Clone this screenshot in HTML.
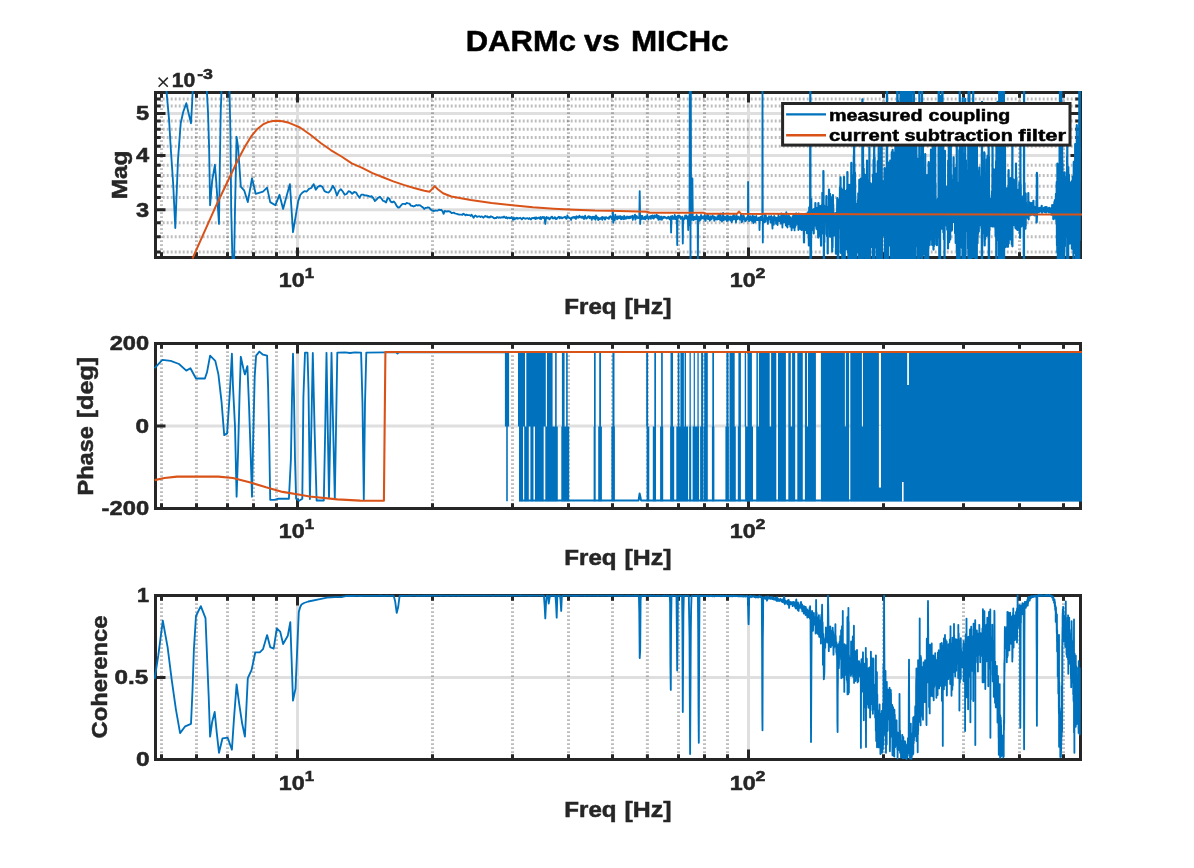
<!DOCTYPE html>
<html><head><meta charset="utf-8"><title>DARMc vs MICHc</title>
<style>html,body{margin:0;padding:0;background:#fff;}svg{display:block;will-change:transform;}text{font-family:"Liberation Sans",sans-serif;font-weight:bold;}</style>
</head><body>
<svg width="1194" height="868" viewBox="0 0 1194 868">
<rect x="0" y="0" width="1194" height="868" fill="#ffffff"/>
<defs>
<clipPath id="cp0"><rect x="153.9" y="90.9" width="928.2" height="168.2"/></clipPath>
<clipPath id="cp1"><rect x="153.9" y="341.9" width="928.2" height="168.2"/></clipPath>
<clipPath id="cp2"><rect x="153.9" y="593.9" width="928.2" height="167.2"/></clipPath>
</defs>
<g fill="none">
<path d="M297.5 94.0V256.0 M748.5 94.0V256.0 M157.0 209.8H1079.0 M157.0 155.5H1079.0 M157.0 113.4H1079.0" stroke="#DFDFDF" stroke-width="3"/>
<path d="M161.5 94.0V256.0 M196.5 94.0V256.0 M227.5 94.0V256.0 M253.5 94.0V256.0 M276.5 94.0V256.0 M432.5 94.0V256.0 M512.5 94.0V256.0 M568.5 94.0V256.0 M612.5 94.0V256.0 M647.4 94.0V256.0 M678.5 94.0V256.0 M704.5 94.0V256.0 M727.5 94.0V256.0 M883.5 94.0V256.0 M963.5 94.0V256.0 M1019.5 94.0V256.0 M1063.5 94.0V256.0" stroke="#262626" stroke-opacity="0.3" stroke-width="3" stroke-dasharray="1.8 2.2" stroke-dashoffset="1.80"/>
<path d="M157.0 251.9H1079.0 M157.0 236.8H1079.0 M157.0 222.8H1079.0 M157.0 197.6H1079.0 M157.0 186.2H1079.0 M157.0 175.4H1079.0 M157.0 165.2H1079.0 M157.0 146.3H1079.0 M157.0 137.5H1079.0 M157.0 129.2H1079.0 M157.0 121.1H1079.0 M157.0 106.0H1079.0 M157.0 98.9H1079.0" stroke="#262626" stroke-opacity="0.3" stroke-width="3" stroke-dasharray="1.9 2.1" stroke-dashoffset="2.25"/>
</g>
<g fill="none" stroke="#262626" stroke-width="3">
<rect x="155.5" y="92.5" width="925.0" height="165.0"/>
<path d="M161.5 257.5v-5.2M161.5 92.5v5.2 M196.5 257.5v-5.2M196.5 92.5v5.2 M227.5 257.5v-5.2M227.5 92.5v5.2 M253.5 257.5v-5.2M253.5 92.5v5.2 M276.5 257.5v-5.2M276.5 92.5v5.2 M432.5 257.5v-5.2M432.5 92.5v5.2 M512.5 257.5v-5.2M512.5 92.5v5.2 M568.5 257.5v-5.2M568.5 92.5v5.2 M612.5 257.5v-5.2M612.5 92.5v5.2 M647.4 257.5v-5.2M647.4 92.5v5.2 M678.5 257.5v-5.2M678.5 92.5v5.2 M704.5 257.5v-5.2M704.5 92.5v5.2 M727.5 257.5v-5.2M727.5 92.5v5.2 M883.5 257.5v-5.2M883.5 92.5v5.2 M963.5 257.5v-5.2M963.5 92.5v5.2 M1019.5 257.5v-5.2M1019.5 92.5v5.2 M1063.5 257.5v-5.2M1063.5 92.5v5.2 M297.5 257.5v-10M297.5 92.5v10 M748.5 257.5v-10M748.5 92.5v10 M155.5 251.9h5.2M1080.5 251.9h-5.2 M155.5 236.8h5.2M1080.5 236.8h-5.2 M155.5 222.8h5.2M1080.5 222.8h-5.2 M155.5 197.6h5.2M1080.5 197.6h-5.2 M155.5 186.2h5.2M1080.5 186.2h-5.2 M155.5 175.4h5.2M1080.5 175.4h-5.2 M155.5 165.2h5.2M1080.5 165.2h-5.2 M155.5 146.3h5.2M1080.5 146.3h-5.2 M155.5 137.5h5.2M1080.5 137.5h-5.2 M155.5 129.2h5.2M1080.5 129.2h-5.2 M155.5 121.1h5.2M1080.5 121.1h-5.2 M155.5 106.0h5.2M1080.5 106.0h-5.2 M155.5 98.9h5.2M1080.5 98.9h-5.2 M155.5 209.8h10M1080.5 209.8h-10 M155.5 155.5h10M1080.5 155.5h-10 M155.5 113.4h10M1080.5 113.4h-10"/>
</g>
<g clip-path="url(#cp0)" fill="none" stroke-linejoin="round" stroke-linecap="butt">
<path d="M166.2 88L169.1 120.2L170.7 147.2L173.2 184.5L175.3 228L176.5 196.9L178 159.6L180.7 123.3L183.2 112L186.3 103.2L188.3 112L191 123.3L192.1 103.7L192.9 86L206.6 86L208 112L209.1 147.2L210.1 205.2L212.2 180.3L214.9 164.8L216.3 182.4L219 223.9L219.8 167.9L220.7 111.9L221.7 86L229.4 86L230.4 132.7L231.2 209.4L232.5 262L234.1 262L235 209.4L236.6 136.8L238.1 147.2L239.5 167.9L240.8 186.6L244.3 190.7L247.8 202.1L252 178.3L255.7 193.8L263 191.7L267.1 187.6L270.2 202.1L275.4 205.2L279.5 194.8L283.1 208.9L289.9 184.1L293 232.2L298.2 201.1L300.3 195L302 193L304.3 191.2L306.7 191.5L309 188.8L311.3 188L313.6 184.1L315.8 189.7L318 186.6L320.2 185.7L322.4 186.8L324.5 191.2L326.6 192.1L328.7 192.5L330.8 190L332.8 185.8L334.9 189.2L336.9 195.5L338.9 191.1L340.8 189.2L342.8 191.5L344.7 194.7L346.6 194L348.5 191.2L350.4 191.8L352.2 193.8L354.1 192L355.9 192.3L357.7 195.2L359.5 197.7L361.3 194.6L363 194.6L364.8 195.3L366.5 195.5L368.2 195.9L369.9 196.8L371.6 196.1L373.3 198.1L374.9 201L376.5 199.6L378.2 197.7L379.8 196.7L381.4 198.5L383 200.8L384.5 201.2L386.1 202.4L387.7 197.9L389.2 198.5L390.7 201.7L392.2 202.4L393.7 201.5L395.2 203.1L396.7 206L398.2 207.5L399.6 207.3L401.1 205.3L402.5 203.9L403.9 203.9L405.3 204.2L406.7 202.9L408.1 203.3L409.5 203.6L410.9 205.6L412.3 205.9L413.6 206.5L415 205.9L416.3 205L417.6 205.5L418.9 205.1L420.3 205.4L421.6 206.7L422.8 207.2L424.1 208.9L425.4 207.9L426.7 207.8L427.9 207.3L429.2 207.6L430.4 209.3L431.7 210.3L432.9 210.8L434.1 211L435.3 210.4L436.5 210.6L437.7 210.6L438.9 209.6L440.1 210L441.3 209.8L442.5 211.2L443.6 213.9L444.8 210.9L445.9 211.3L447.1 211.5L448.2 211.2L449.3 211.4L450.4 211.9L451.6 213.1L452.7 212.8L453.8 212.6L454.9 213.4L456 213.7L457 213.9L458.1 214.3L459.2 214.5L460.3 214.6L461.3 214.6L462.4 214.9L463.4 213.7L464.5 214.3L465.5 215.4L466.6 214.6L467.6 215.1L468.6 215.2L469.6 215.1L470.6 215.9L471.6 214.7L472.6 216.2L473.6 217.8L474.6 216.1L475.6 215.5L476.6 216.7L477.6 216.7L478.5 216.4L479.5 216.3L480.5 217.1L481.4 216.5L482.4 216.6L483.3 217.7L484.3 216.9L485.2 215.9L486.2 216.7L487.1 216.2L488 217.5L488.9 216.9L489.9 217.5L490.8 216.2L491.7 216.8L492.6 217L493.5 217.9L494.4 218.3L495.3 218L496.2 218.1L497 217L497.9 217.4L498.8 217.8L499.7 217.3L500.5 217.8L501.4 217.4L502.3 217.1L503.1 217.6L504 216.5L504.8 217.2L505.7 218L506.5 217.1L507.4 218.4L508.2 217.7L509 217.6L509.8 218.2L510.7 218.1L511.5 217.1L512.3 218.3L513.1 219.7L513.9 217.6L514.7 219.4L515.5 218.2L516.4 217.7L517.1 218.8L517.9 217.9L518.7 218.5L519.5 218.2L520.3 217.8L521.1 218.6L521.9 219.4L522.6 218.3L523.4 217.7L524.2 218.3L525 218.5L525.7 218.8L526.5 218.3L527.2 218.1L528 218.5L528.7 219L529.5 218.1L530.2 218.8L531 219.5L531.7 218.1L532.5 218L533.2 218.3L533.9 217.9L534.7 217.6L535.4 219.1L536.1 217.3L536.8 218.6L537.5 218.4L538.3 217.6L539 217.6L539.7 218.7L540.4 217L541.1 219.2L541.8 217.6L542.5 216.9L543.2 218L543.9 216.9L544.6 218.5L545.3 224L546 217.7L546.7 216.9L547.3 218.4L548 218.2L548.7 217.6L549.4 219.3L550.1 218.8L550.7 218L551.4 216.8L552.1 216.6L552.7 218.4L553.4 218.2L554 218.6L554.7 217.2L555.4 217.3L556 219.2L556.7 218.9L557.3 218L558 217.7L558.6 216.8L559.3 217L559.9 218.5L560.5 217.1L561.2 217.1L561.8 218.2L562.4 218.2L563.1 217.5L563.7 217.5L564.3 217.4L565 216.7L565.6 217.8L566.2 218.7L566.8 218.7L567.4 215.5L568 217.2L568.7 217.4L569.3 218.2L569.9 218.1L570.5 218.2L571.1 219.9L571.7 217.7L572.3 217.3L572.9 217.7L573.5 217L574.1 217.9L574.7 216.9L575.3 218.2L575.9 219L576.5 216.3L577 217.6L577.6 216.8L578.2 217.7L578.8 216.8L579.4 215.6L580 217.5L580.5 217.3L581.1 216.8L581.7 217.7L582.3 216.5L582.8 217.8L583.4 216.8L584 219L584.5 217.3L585.1 215.7L585.7 217.5L586.2 218.6L586.8 218.3L587.3 217.7L587.9 216.7L588.4 216.3L589 216.2L589.5 218.2L590.1 217.8L590.6 216.8L591.2 217.1L591.7 219.9L592.3 217.8L592.8 216.6L593.4 218L593.9 218.5L594.4 216.6L595 218.9L595.5 219.7L596 215.5L596.6 217.1L597.1 218.2L597.6 217.3L598.2 220.1L598.7 217.9L599.2 219.4L599.7 219.1L600.2 218.3L600.8 218.7L601.3 217.7L601.8 217.2L602.3 219.9L602.8 217L603.3 218.3L603.9 218.2L604.4 217.4L604.9 219.6L605.4 218.9L605.9 217.1L606.4 217.4L606.9 217.7L607.4 218.1L607.9 218.4L608.4 217.8L608.9 218.9L609.4 216.8L609.9 216.7L610.4 216.2L610.9 217.4L611.4 217.8L611.9 219.1L612.4 218.1L612.9 211L613.3 222.8L613.8 217.1L614.3 217.7L614.8 220.2L615.3 214.7L615.8 216.9L616.2 216.7L616.7 218.3L617.2 219.2L617.7 216.5L618.2 218.4L618.6 217L619.1 216.2L619.6 218L620 217.1L620.5 216.1L621 219.4L621.5 217.1L621.9 219.1L622.4 216.8L622.9 218L623.3 218.1L623.8 219.2L624.2 215.8L624.7 218.7L625.2 218.7L625.6 217.2L626.1 218.5L626.5 218.6L627 216.5L627.4 216.7L627.9 217.6L628.3 218.3L628.8 216.7L629.2 216.7L629.7 218.2L630.1 216.6L630.6 217.9L631 216.5L631.5 216.9L631.9 217.1L632.4 215.8L632.8 219.8L633.2 216.9L633.7 217.7L634.1 216.4L634.6 215.3L635 214.6L635.4 219.6L635.9 218.4L636.3 216.7L636.7 216L637.2 217.5L637.6 217.1L638 218.2L638.5 217.4L638.9 217.5L639.3 218.1L639.7 191.1L640.2 223.9L640.6 215.7L641 215.8L641.4 219L641.9 216L642.3 215.9L642.7 218.9L643.1 217.8L643.5 217.6L644 219L644.4 217.4L644.8 216.9L645.2 219.4L645.6 216.4L646 217.7L646.4 218.2L646.8 217.1L647.3 214.9L647.7 217.1L648.1 218.5L648.5 219.2L648.9 218.1L649.3 217.4L649.7 216.8L650.1 216.3L650.5 217.5L650.9 218.8L651.3 215.9L651.7 217L652.1 216.5L652.5 215.4L652.9 218.1L653.3 218.3L653.7 218.6L654.1 217.5L654.5 215.4L654.9 216.8L655.3 217.1L655.7 216.3L656.1 217.4L656.5 214.6L656.9 215.1L657.2 218L657.6 216.7L658 216.2L658.4 219.8L658.8 216L659.2 216.8L659.6 219.3L660 219.6L660.3 217.4L660.7 217.1L661.1 216.5L661.5 216.9L661.9 219.9L662.2 217.8L662.6 217.2L663 218.4L663.4 217.7L663.8 216.6L664.1 216.6L664.5 217.7L664.9 216.9L665.3 217.5L665.6 217.4L666 217.9L666.4 218.5L666.7 218.1L667.1 217.9L667.5 217.4L667.9 218.3L668.2 216.7L668.6 218L669 217.1L669.3 218.3L669.7 219.3L670.1 219.2L670.4 217.6L670.8 216.5L671.1 232.6L671.5 217.6L671.9 217.9L672.2 216L672.6 218.9L673 218.4L673.3 218.8L673.7 217.3L674 217.6L674.4 218.7L674.7 215L675.1 218.6L675.5 219.3L675.8 216.6L676.2 216.7L676.5 219.2L676.9 218.8L677.2 245L677.6 216.9L677.9 215.8L678.3 217.9L678.6 217.4L679 215.5L679.3 216L679.7 217.4L680 216.1L680.4 217.9L680.7 218.9L681 217.2L681.4 217.6L681.7 217.1L682.1 217.2L682.4 216.6L682.8 243.5L683.1 220L683.4 219L683.8 218.4L684.1 219.5L684.5 217.7L684.8 218.5L685.1 215.5L685.5 217.7L685.8 218.5L686.2 215.5L686.5 217.9L686.8 218.5L687.2 219.1L687.5 218.5L687.8 216.4L688.2 230L688.5 220.1L688.8 218L689.2 215.7L689.5 225L689.8 80L690.1 80L690.5 270L690.8 80L691.1 215L691.5 219.8L691.8 217.3L692.1 218.9L692.4 178.3L692.8 218.8L693.1 220L693.4 218.5L693.7 220.2L694.1 216.9L694.4 218.2L694.7 216.9L695 218.4L695.3 219.3L695.7 218L696 219.2L696.3 216.3L696.6 214.9L696.9 216.7L697.3 218L697.6 216.3L697.9 262L698.2 216.6L698.5 217.9L698.8 218.4L699.2 217L699.5 220.9L699.8 217.1L700.1 218.8L700.4 217.2L700.7 219.8L701 215L701.3 216.5L701.6 218.3L702 218.4L702.3 218.1L702.6 216.9L702.9 218.3L703.2 216.3L703.5 216.8L703.8 217.3L704.1 218.2L704.4 219.5L704.7 214.9L705 216.7L705.3 219.3L705.6 220.9L705.9 217.8L706.3 216.3L706.6 218.1L706.9 218.3L707.2 217.3L707.5 214.6L707.8 215.7L708.1 219.2L708.4 215.5L708.7 218.3L709 217.6L709.3 217.7L709.6 219.3L709.9 220.7L710.2 218.7L710.5 216.3L710.7 216.9L711 219.4L711.3 219.2L711.6 219.3L711.9 217.4L712.2 216.5L712.5 215.5L712.8 217.3L713.1 217.4L713.4 216.4L713.7 218.7L714 218.6L714.3 220.8L714.6 216.6L714.9 217.2L715.1 217.3L715.4 217.4L715.7 217.9L716 219.5L716.3 218.7L716.6 219.4L716.9 219.4L717.2 219.6L717.4 216.2L717.7 218.3L718 216.8L718.3 216.2L718.6 219.1L718.9 214.5L719.2 217.5L719.4 215.7L719.7 218.3L720 219.4L720.3 220.3L720.6 213.6L720.9 218.6L721.1 217.8L721.4 217.2L721.7 218.6L722 221.6L722.3 219.2L722.5 219.1L722.8 220.2L723.1 213L723.4 219.1L723.6 219L723.9 220L724.2 216.5L724.5 219.6L724.8 219.3L725 217.9L725.3 219.4L725.6 217.9L725.9 218L726.1 216.4L726.4 218.6L726.7 221L726.9 219.4L727.2 215.7L727.5 217.1L727.8 220.5L728 218.4L728.3 218.7L728.6 216.2L728.8 219.7L729.1 217L729.4 218.2L729.7 217.4L729.9 218L730.2 218.5L730.5 220.5L730.7 216.4L731 218.6L731.3 219.6L731.5 216.8L731.8 222.1L732.1 219.5L732.3 219L732.6 220.2L732.9 217L733.1 215.5L733.4 215.8L733.7 215.1L733.9 214.9L734.2 219L734.4 216.2L734.7 218.4L735 218.7L735.2 219.6L735.5 218.4L735.8 218.5L736 222.4L736.3 214.9L736.5 218.1L736.8 219.1L737 217.3L737.3 219.2L737.6 218.4L737.8 216.4L738.1 218L738.3 218.2L738.6 218L738.9 217.1L739.1 218.4L739.4 219.3L739.6 217.5L739.9 219.9L740.1 219.1L740.4 218.4L740.6 218L740.9 214.1L741.2 214.5L741.4 216.3L741.7 222.4L741.9 219.8L742.2 216.3L742.4 221.4L742.7 217.9L742.9 218.3L743.2 218L743.4 215.3L743.7 217.7L743.9 215.8L744.2 218.8L744.4 219.9L744.7 219.3L744.9 218.3L745.2 221.4L745.4 219L745.7 218.3L745.9 218.8L746.2 220.5L746.4 220.5L746.7 218L746.9 219.4L747.1 217L747.4 217.2L747.6 217L747.9 219.2L748.1 182L748.4 219.2L748.6 217L748.9 219L749.1 221.1L749.4 218.4L749.6 216.6L749.8 218.2L750.1 218.2L750.3 218.9L750.6 216.1L750.8 218.4L751 220.3L751.3 217.9L751.5 218.7L751.8 217.8L752 217.4L752.2 221.4L752.5 220L752.7 215.4L753 221.5L753.2 221.9L753.4 223.2L753.7 218.3L753.9 218.1L754.2 220.7L754.4 216.4L754.6 217.2L754.9 218.4L755.1 222L755.3 217.9L755.6 220.2L755.8 218.4L756 218.5L756.3 215.9L756.5 217.4L756.8 220.1L757 219.9L757.2 218.1L757.5 220L757.7 220.1L757.9 219.4L758.2 218.5L758.4 218L758.6 217.6L758.8 220.3L759.1 219.6L759.3 217.9L759.5 230L759.8 217.6L760 218.8L760.2 220.1L760.5 216.7L760.7 219.5L760.9 220.1L761.2 218.9L761.4 217.3L761.6 220.1L761.8 219.9L762.1 217.4L762.3 217.5L762.5 80L762.8 242.5L763 219.2L763.2 222.4L763.4 222.4L763.7 218.6L763.9 218.5L764.1 218.3L764.3 219.5L764.6 222.2L764.8 218.3L765 214.2L765.2 220.7L765.5 220.4L765.7 221.7L765.9 215.3L766.1 218.5L766.4 217.2L766.6 217.3L766.8 218.1L767 217.7L767.2 219.3L767.5 219.7L767.7 218.2L767.9 223.9L768.1 219.6L768.3 217.8L768.6 218.5L768.8 218.4L769 216.1L769.2 217.7L769.5 216.9L769.7 219.4L769.9 218.1L770.1 216.9L770.3 217L770.5 222.6L770.8 221L771 218.4L771.2 216L771.4 217.7L771.6 218.1L771.9 221.8L772.1 221.8L772.3 226.3L772.5 228.6L772.7 217.2L772.9 219.6L773.1 220.5L773.4 221.5L773.6 221.5L773.8 224.7L774 220.6L774.2 216L774.4 219.7L774.7 218.8L774.9 218.8L775.1 220.2L775.3 217.4L775.5 217.7L775.7 219.7L775.9 217.6L776.1 223.8L776.4 218.6L776.6 222.5L776.8 219.3L777 218.9L777.2 217.7L777.4 222.1L777.6 225L777.8 220.7L778 217.4L778.3 219.9L778.5 214.3L778.7 217.4L778.9 220L779.1 218.5L779.3 219.1L779.5 221.1L779.7 218.9L779.9 217.3L780.1 220.5L780.3 216.8L780.5 216.7L780.8 217.1L781 223.7L781.2 216.4L781.4 213.4L781.6 216.6L781.8 218.3L782 218.6L782.2 218.9L782.4 227.5L782.6 215.1L782.8 221.1L783 219.6L783.2 218.9L783.4 215L783.6 222.3L783.8 217.5L784 218.3L784.2 215.1L784.5 222.2L784.7 222.1L784.9 221.3L785.1 220.2L785.3 219.8L785.5 216.2L785.7 219.4L785.9 225.5L786.1 224.2L786.3 212.1L786.5 220.6L786.7 218.3L786.9 226.4L787.1 226.3L787.3 216.3L787.5 227.5L787.7 222.9L787.9 221.2L788.1 221.2L788.3 218.5L788.5 215.2L788.7 216.7L788.9 220.6L789.1 224L789.3 215.8L789.5 217.7L789.7 223.4L789.9 218.5L790.1 221.1L790.3 226.7L790.5 217.5L790.7 219.1L790.9 220.6L791.1 220.5L791.2 219.4L791.4 220.9L791.6 230.3L791.8 225.5L792 219.2L792.2 222.4L792.4 218.4L792.6 216.4L792.8 221.8L793 223.2L793.2 215.5L793.4 227.7L793.6 222.5L793.8 216.2L794 226.8L794.2 215.7L794.4 213.9L794.6 230.4L794.8 217.6L794.9 215.5L795.1 217.8L795.3 227L795.5 222.6L795.7 218.6L795.9 220.2L796.1 224.9L796.3 213.3L796.5 215.2L796.7 223.2L796.9 221L797.1 220.5L797.2 220.1L797.4 218.5L797.6 219.2L797.8 224.1L798 215.8L798.2 224.7L798.4 230L798.6 223.5L798.8 213.4L799 215.5L799.1 221.2L799.3 221.1L799.5 220.2L799.7 220.4L799.9 215.9" stroke="#0072BD" stroke-width="1.85"/>
<path d="M799.5 220.2L799.7 220.4L799.9 215.9L800.1 229L800.3 221.1L800.5 226.2L800.6 223.7L800.8 220.3L801 216.7L801.2 229.6L801.4 228.2L801.6 230L801.8 214.7L802 220.9L802.1 220.7L802.3 219.8L802.5 219.8L802.7 229.1L802.9 229.6L803.1 219L803.2 220.3L803.4 216L803.6 228.5L803.8 229.3L804 242.4L804.2 224L804.4 218.1L804.5 219.1L804.7 223.3L804.9 215.9L805.1 217.2L805.3 229.9L805.5 215.2L805.6 216L805.8 222.1L806 229.5L806.2 217L806.4 227.8L806.5 213.6L806.7 217.2L806.9 214.5L807.1 233.3L807.3 227.4L807.5 218.5L807.6 214.5L807.8 221L808 217.4L808.2 212.2L808.4 213.3L808.5 220.3L808.7 222.7L808.9 245.4L809.1 215L809.3 207.4L809.4 245L809.6 220.5L809.8 217.3L810 217.4L810.1 229.3L810.3 80L810.5 270L810.7 226.8L810.9 216.4L811 256.8L811.2 199.1L811.4 215.9L811.6 225.8L811.7 217.8L811.9 209.6L812.1 218.9L812.3 226.9L812.5 221.9L812.6 229.8L812.8 211.3L813 214.2L813.2 219L813.3 224.1L813.5 216.7L813.7 233.4L813.9 218.8L814 209.1L814.2 224.4L814.4 216.5L814.6 218.9L814.7 213.9L814.9 222.6L815.1 209.9L815.3 219.6L815.4 203.2L815.6 215.8L815.8 209.9L815.9 225.9L816.1 214.1L816.3 224.8L816.5 228.8L816.6 210.3L816.8 214.4L817 229.3L817.2 218.7L817.3 207.8L817.5 224.3L817.7 214.1L817.8 220.5L818 209.8L818.2 237.6L818.4 203.2L818.5 220.8L818.7 221.8L818.9 236.1L819 223.8L819.2 211.6L819.4 223.7L819.6 206.1L819.7 215.9L819.9 233.3L820.1 213.9L820.2 223.2L820.4 215.8L820.6 216.7L820.7 212.6L820.9 237.3L821.1 245.6L821.2 205.8L821.4 232.8L821.6 211.9L821.7 216.1L821.9 219.2L822.1 218.4L822.3 230.8L822.4 192.8L822.6 212L822.8 231.1L822.9 216.7L823.1 203.2L823.3 233.8L823.4 171L823.6 220.5L823.8 212.8L823.9 261.4L824.1 205.7L824.3 242.2L824.4 214.1L824.6 210.8L824.8 221.2L824.9 216.7L825.1 221.3L825.2 216.1L825.4 216.8L825.6 211.4L825.7 209.1L825.9 211.8L826.1 212.4L826.2 214.4L826.4 196.2L826.6 225.2L826.7 234.3L826.9 223.3L827.1 236.2L827.2 223L827.4 208.7L827.5 207.1L827.7 253.4L827.9 220.5L828 219.2L828.2 213L828.4 212.6L828.5 212.9L828.7 222.3L828.8 227.9L829 189.6L829.2 198.7L829.3 216.5L829.5 227.7L829.7 207.7L829.8 211.9L830 193.9L830.1 236.8L830.3 212.7L830.5 231.9L830.6 199.5L830.8 234.2L830.9 216.2L831.1 219L831.3 214.8L831.4 229.7L831.6 197.5L831.7 201.4L831.9 216.9L832.1 238.3L832.2 251.4L832.4 203.2L832.5 247.4L832.7 219.1L832.9 195L833 216.4L833.2 204.5L833.3 234.9L833.5 219.9L833.7 229.6L833.8 235.7L834 220.4L834.1 228.4L834.3 215.2L834.4 233.9L834.6 216.8L834.8 228.1L834.9 215.1L835.1 218.3L835.2 219.1L835.4 213.1L835.5 221.8L835.7 232.6L835.9 230.4L836 253.7L836.2 235.4L836.3 241.4L836.5 217.4L836.6 225.5L836.8 217.6L836.9 225.7L837.1 213.9L837.3 198L837.4 198.8L837.6 200.1L837.7 199.3L837.9 263.4L838 210.7L838.2 263.3L838.3 232.3L838.5 251.8L838.7 210.2L838.8 215.2L839 216.6L839.1 216.1L839.3 209L839.4 228.6L839.6 208.8L839.7 212.5L839.9 202.2L840 187.4L840.2 219.5L840.3 228.2L840.5 177.4L840.6 190.8L840.8 191.7L841 253.1L841.1 193.9L841.3 188.4L841.4 208.1L841.6 249L841.7 221L841.9 208L842 189.7L842.2 235.5L842.3 270L842.5 203.9L842.6 216.6L842.8 243.6L842.9 197L843.1 229L843.2 215.5L843.4 199.9L843.5 219L843.7 219.5L843.8 244.6L844 176.9L844.1 209.1L844.3 270L844.4 223.3L844.6 211L844.7 270L844.9 193.6L845 244.9L845.2 215.6L845.3 237L845.5 201.5L845.6 191L845.8 230.8L845.9 219.7L846.1 249.3L846.2 215L846.4 204.7L846.5 232.3L846.7 194.5L846.8 221.7L847 210L847.1 189.3L847.3 236L847.4 172L847.5 247.5L847.7 231.6L847.8 233.3L848 252.7L848.1 241.9L848.3 211.9L848.4 270L848.6 270L848.7 204.5L848.9 248.4L849 189.6L849.2 187.9L849.3 184.8L849.5 194.1L849.6 243.1L849.7 270L849.9 254.3L850 254.5L850.2 270L850.3 256.6L850.5 252.6L850.6 195.2L850.8 227.2L850.9 216.4L851.1 196.3L851.2 245.4L851.3 162.9L851.5 222.4L851.6 224.6L851.8 190.5L851.9 175.1L852.1 215.1L852.2 270L852.4 259.7L852.5 232.9L852.6 228.1L852.8 207.1L852.9 205.5L853.1 270L853.2 240.6L853.4 249L853.5 194.6L853.6 232.2L853.8 156L853.9 230.9L854.1 119.3L854.2 178.9L854.4 164.1L854.5 184.4L854.6 220L854.8 270L854.9 172.5L855.1 183.9L855.2 201.6L855.3 210.6L855.5 234.4L855.6 203.6L855.8 219.9L855.9 223.5L856.1 247.9L856.2 244.6L856.3 266.3L856.5 217.7L856.6 224L856.8 218.6L856.9 203.9L857 219.6L857.2 212.8L857.3 229L857.5 230.7L857.6 221.1L857.7 215.9L857.9 200L858 211.8L858.2 251.9L858.3 193.3L858.4 193.8L858.6 208.7L858.7 253.2L858.9 206.8L859 270L859.1 234.1L859.3 179.9L859.4 231.6L859.6 183L859.7 200.5L859.8 229.8L860 208.6L860.1 219.8L860.2 219.5L860.4 206.7L860.5 213.9L860.7 243.1L860.8 178.6L860.9 197.4L861.1 261.7L861.2 206.9L861.3 228.3L861.5 270L861.6 226L861.8 192.1L861.9 270L862 236.1L862.2 270L862.3 201.7L862.4 99.3L862.6 268L862.7 270L862.8 270L863 145.1L863.1 184.3L863.3 257.1L863.4 178.2L863.5 218.8L863.7 168.5L863.8 256.1L863.9 205.8L864.1 184.6L864.2 182.6L864.3 239.9L864.5 218.3L864.6 204.6L864.7 237.5L864.9 174.9L865 201.2L865.2 181.3L865.3 260.3L865.4 201.9L865.6 244.3L865.7 208.1L865.8 205.5L866 253.3L866.1 186.4L866.2 204.3L866.4 270L866.5 244.3L866.6 200.4L866.8 218.5L866.9 198.8L867 160.5L867.2 241.8L867.3 192L867.4 231.3L867.6 259.1L867.7 194.8L867.8 245L868 207.4L868.1 242.1L868.2 270L868.4 221.2L868.5 204.2L868.6 270L868.8 270L868.9 270L869 180L869.2 218.4L869.3 245.2L869.4 147.3L869.5 270L869.7 209.3L869.8 270L869.9 270L870.1 210.1L870.2 243.8L870.3 199.5L870.5 183.2L870.6 205L870.7 185L870.9 202.1L871 230.3L871.1 191.5L871.3 232.2L871.4 246.9L871.5 184.2L871.6 210.4L871.8 246.7L871.9 233.2L872 221.8L872.2 203.5L872.3 222.2L872.4 200.9L872.6 225.8L872.7 216L872.8 270L872.9 260.2L873.1 174.6L873.2 245.5L873.3 213.1L873.5 270L873.6 159.8L873.7 220.8L873.8 234.1L874 209.8L874.1 166.4L874.2 132.4L874.4 270L874.5 216.2L874.6 157.6L874.7 209.3L874.9 215.2L875 225.6L875.1 245.8L875.3 196.8L875.4 188.4L875.5 184.8L875.6 247.5L875.8 207.8L875.9 219.3L876 213.6L876.2 217.1L876.3 226.3L876.4 197.8L876.5 173.8L876.7 194.9L876.8 175.1L876.9 203.2L877 254.2L877.2 270L877.3 270L877.4 208.4L877.5 209.7L877.7 203.7L877.8 161.2L877.9 219.9L878.1 185.6L878.2 172.5L878.3 270L878.4 270L878.6 270L878.7 129.3L878.8 115.5L878.9 204.9L879.1 213.4L879.2 176.9L879.3 186L879.4 206.6L879.6 197.1L879.7 222.2L879.8 210.3L879.9 171L880.1 204.2L880.2 206.5L880.3 207.3L880.4 192.3L880.6 173.6L880.7 153.4L880.8 270L880.9 250.3L881.1 147L881.2 233.2L881.3 203.9L881.4 229.8L881.6 140.8L881.7 145L881.8 222.3L881.9 270L882 242.7L882.2 180.5L882.3 214.7L882.4 231.2L882.5 219.8L882.7 232.9L882.8 235.8L882.9 191.8L883 219.9L883.2 231.4L883.3 204.3L883.4 205L883.5 209.5L883.6 232.8L883.8 228.8L883.9 205.1L884 218L884.1 215.9L884.3 212.5L884.4 180.3L884.5 203.4L884.6 168.1L884.7 174.8L884.9 185.7L885 270L885.1 270L885.2 177.5L885.4 231.9L885.5 217.3L885.6 221.8L885.7 212.8L885.8 187.3L886 185.7L886.1 237.5L886.2 260.8L886.3 268L886.4 203.1L886.6 216.6L886.7 270L886.8 119.7L886.9 96.1L887.1 87.7L887.2 270L887.3 215L887.4 212.6L887.5 193.4L887.7 192.9L887.8 217.6L887.9 270L888 162.3L888.1 238.7L888.3 241.5L888.4 213.5L888.5 188.3L888.6 209.1L888.7 216.8L888.9 245.5L889 235L889.1 200.4L889.2 209.7L889.3 214.9L889.4 233.4L889.6 196.2L889.7 222.5L889.8 228.9L889.9 226.3L890 171.4L890.2 160.6L890.3 195.2L890.4 211.4L890.5 207.2L890.6 207.9L890.8 270L890.9 223.2L891 206.5L891.1 240.1L891.2 227.7L891.3 193.4L891.5 270L891.6 270L891.7 182.5L891.8 152.2L891.9 184.6L892 158.1L892.2 270L892.3 198.7L892.4 247.7L892.5 217.6L892.6 149.9L892.8 270L892.9 159.1L893 224.4L893.1 180.7L893.2 226.5L893.3 205.7L893.5 221.6L893.6 209.9L893.7 215.8L893.8 162.5L893.9 207.8L894 152.8L894.1 241L894.3 254.6L894.4 209.3L894.5 194.9L894.6 188.5L894.7 208L894.8 270L895 190.6L895.1 163.7L895.2 154.9L895.3 270L895.4 128.4L895.5 132.4L895.7 258.5L895.8 175L895.9 204.7L896 177.6L896.1 232.2L896.2 270L896.3 229.9L896.5 232.3L896.6 139.3L896.7 267L896.8 217.3L896.9 208.7L897 270L897.1 270L897.3 80L897.4 214.9L897.5 80L897.6 97.9L897.7 270L897.8 200.7L897.9 270L898.1 101.2L898.2 118.7L898.3 270L898.4 151.6L898.5 218.9L898.6 208.1L898.7 267.9L898.9 209.9L899 213.7L899.1 240.7L899.2 255.7L899.3 193.8L899.4 114.4L899.5 215.3L899.6 223.6L899.8 132.6L899.9 123.4L900 199.1L900.1 217.3L900.2 270L900.3 270L900.4 197.9L900.5 80L900.7 85.5L900.8 80L900.9 110.6L901 150.4L901.1 270L901.2 80L901.3 143.6L901.4 80L901.6 194.3L901.7 157.4L901.8 270L901.9 83.6L902 202L902.1 238.3L902.2 117.5L902.3 270L902.5 191.5L902.6 270L902.7 80L902.8 269.6L902.9 216.1L903 238.3L903.1 121.5L903.2 270L903.3 270L903.5 80L903.6 83.7L903.7 180.9L903.8 80L903.9 243.6L904 124.9L904.1 80L904.2 258.8L904.3 149.7L904.4 142.8L904.6 270L904.7 142.2L904.8 156.3L904.9 105.3L905 80L905.1 80.8L905.2 108.9L905.3 132.1L905.4 110.5L905.5 80L905.7 80L905.8 270L905.9 80L906 270L906.1 130.6L906.2 80L906.3 80L906.4 129.6L906.5 200.8L906.6 239.8L906.7 81.7L906.9 187.1L907 166.5L907.1 199.9L907.2 157.6L907.3 220.4L907.4 102L907.5 105.8L907.6 94.9L907.7 80L907.8 132.9L907.9 270L908 80L908.2 270L908.3 126.4L908.4 150.9L908.5 164.8L908.6 196.7L908.7 205.2L908.8 226.4L908.9 200L909 213.8L909.1 191.1L909.2 224.3L909.3 225.6L909.5 182.8L909.6 270L909.7 159.1L909.8 178.9L909.9 159.9L910 80L910.1 80L910.2 168.6L910.3 80L910.4 198.8L910.5 155.1L910.6 218.2L910.7 245.5L910.8 197.5L910.9 219L911.1 144.2L911.2 127.7L911.3 152.2L911.4 241.1L911.5 80L911.6 270L911.7 162.9L911.8 160.9L911.9 150.8L912 202.3L912.1 247.7L912.2 173.7L912.3 149.1L912.4 130.8L912.5 270L912.6 260.8L912.8 250.3L912.9 230.6L913 255L913.1 231.3L913.2 234L913.3 176.7L913.4 215.8L913.5 232.4L913.6 270L913.7 270L913.8 80L913.9 80L914 150.8L914.1 149L914.2 261.1L914.3 270L914.4 132.5L914.5 134.6L914.6 169.4L914.8 219.5L914.9 231.6L915 193.3L915.1 200.6L915.2 238.7L915.3 238.5L915.4 199.2L915.5 219.9L915.6 270L915.7 222.2L915.8 140.8L915.9 231.4L916 185.6L916.1 146.9L916.2 186.6L916.3 212.8L916.4 143.8L916.5 176.3L916.6 184.7L916.7 219.5L916.8 207.5L916.9 191.4L917 198.4L917.1 223.4L917.2 185.7L917.3 246.2L917.5 212.1L917.6 158.9L917.7 221.8L917.8 216.3L917.9 227.2L918 232.6L918.1 270L918.2 194.7L918.3 160.6L918.4 224L918.5 208.7L918.6 217.7L918.7 214.6L918.8 214.6L918.9 196.1L919 187.1L919.1 195.6L919.2 270L919.3 170.4L919.4 80L919.5 270L919.6 206.8L919.7 156.3L919.8 199.7L919.9 230.4L920 172.3L920.1 190.4L920.2 235L920.3 202.7L920.4 162.8L920.5 156.7L920.6 177.9L920.7 234.8L920.8 187L920.9 199.4L921 226L921.1 204L921.2 224.6L921.3 222.5L921.4 207.2L921.5 222.3L921.6 257.1L921.7 161.3L921.8 136.7L921.9 232L922 80L922.1 270L922.2 111.1L922.3 213.9L922.4 228.5L922.5 180.4L922.6 256L922.7 212.1L922.8 194L922.9 130.7L923 236.9L923.1 222L923.2 167.7L923.3 254.4L923.4 170.5L923.5 216.1L923.6 207.2L923.7 213.6L923.8 234.2L923.9 223.8L924 229L924.1 223.5L924.2 181.4L924.3 211.7L924.4 223.6L924.5 211.1L924.6 220.5L924.7 221.1L924.8 200.8L924.9 221.1L925 194.8L925.1 203.9L925.2 154L925.3 270L925.4 229.3L925.5 255L925.6 198.2L925.7 224.2L925.8 191.3L925.9 179.7L926 179.1L926.1 208.5L926.2 243.4L926.3 211.4L926.4 206.1L926.5 263.8L926.6 212.9L926.7 216.2L926.8 201.8L926.9 175L927 197.3L927.1 176.5L927.2 184L927.3 186.1L927.4 201.4L927.5 208.7L927.6 239.4L927.7 188L927.8 232.8L927.9 237.5L928 190.7L928.1 229.6L928.2 270L928.3 180.1L928.4 248.5L928.5 213.9L928.6 176.1L928.7 162L928.8 167.2L928.9 211.4L929 215.5L929.1 215L929.2 198.5L929.3 216.6L929.4 224.5L929.5 197.8L929.5 199.5L929.6 210L929.7 245L929.8 203.4L929.9 167.1L930 163.7L930.1 231.8L930.2 177L930.3 210.8L930.4 189.3L930.5 201L930.6 239.4L930.7 184.8L930.8 183.9L930.9 188.4L931 149.7L931.1 194.5L931.2 207.2L931.3 214.4L931.4 230.3L931.5 225.6L931.6 191L931.7 218.6L931.8 208.3L931.9 225.8L932 222.6L932.1 215L932.2 216.8L932.2 244.9L932.3 228.6L932.4 200L932.5 225.1L932.6 189.3L932.7 218.8L932.8 136.7L932.9 225.3L933 225.6L933.1 175.6L933.2 201.8L933.3 167.5L933.4 217.9L933.5 249.6L933.6 189L933.7 117.4L933.8 246.4L933.9 169.3L934 191.5L934.1 229.1L934.1 201.3L934.2 216.1L934.3 217.2L934.4 191L934.5 220.1L934.6 244.6L934.7 226.1L934.8 182L934.9 225.7L935 194.7L935.1 177.7L935.2 131.6L935.3 208.3L935.4 237.1L935.5 183.1L935.6 213.4L935.7 199.7L935.8 218.6L935.8 215.1L935.9 212.2L936 215.2L936.1 216.1L936.2 215.8L936.3 215L936.4 216.2L936.5 215.1L936.6 215.3L936.7 229.8L936.8 225.2L936.9 245.2L937 230.4L937.1 200.2L937.2 206.4L937.3 210.1L937.3 227.2L937.4 205.7L937.5 221.2L937.6 222.9L937.7 220.5L937.8 237.5L937.9 226.1L938 198.5L938.1 225.1L938.2 214.9L938.3 221.5L938.4 211.5L938.5 236L938.6 138.6L938.6 129.6L938.7 80L938.8 80L938.9 80L939 80L939.1 205.4L939.2 171.3L939.3 270L939.4 168.5L939.5 243.6L939.6 212L939.7 203.8L939.8 227.6L939.8 189.4L939.9 194.9L940 196.6L940.1 270L940.2 133.1L940.3 96.2L940.4 218.6L940.5 139.5L940.6 195L940.7 184.4L940.8 204.3L940.9 215.2L940.9 198.3L941 219.9L941.1 184.3L941.2 149.2L941.3 220.1L941.4 188.9L941.5 205.1L941.6 126.2L941.7 209.8L941.8 228.7L941.9 226.5L941.9 164.6L942 127.6L942.1 125.4L942.2 80L942.3 139.4L942.4 80L942.5 104.1L942.6 181.5L942.7 169.3L942.8 172.1L942.9 168.6L942.9 151.2L943 207.6L943.1 127.8L943.2 134.9L943.3 168.5L943.4 232.4L943.5 216.1L943.6 207L943.7 194.5L943.8 197.1L943.9 166.3L943.9 199.9L944 239.4L944.1 183.1L944.2 203L944.3 182L944.4 165.2L944.5 270L944.6 210.6L944.7 169.4L944.7 206.6L944.8 206.5L944.9 150.8L945 218.1L945.1 193.2L945.2 195.4L945.3 218.4L945.4 198.4L945.5 204.5L945.6 225.2L945.6 205.7L945.7 206.5L945.8 214.5L945.9 205.7L946 214.8L946.1 201.9L946.2 210.8L946.3 186.7L946.4 215.7L946.4 216.7L946.5 212L946.6 214.9L946.7 202.7L946.8 224.7L946.9 200L947 215.6L947.1 213.1L947.2 214.9L947.2 229.7L947.3 229L947.4 208.2L947.5 188.7L947.6 192.4L947.7 214L947.8 218L947.9 223.9L948 225.1L948 248.4L948.1 205.3L948.2 160.5L948.3 196.3L948.4 198.9L948.5 166.3L948.6 174L948.7 242.3L948.7 219.7L948.8 147.4L948.9 202.2L949 173.8L949.1 242.2L949.2 168.3L949.3 147.3L949.4 177.8L949.4 186.1L949.5 122.8L949.6 226L949.7 222.5L949.8 225.7L949.9 220.9L950 211.4L950.1 210L950.1 219.7L950.2 239.5L950.3 166.4L950.4 165.2L950.5 204.6L950.6 142.1L950.7 165.7L950.8 126.2L950.8 200L950.9 180.5L951 209.9L951.1 228.8L951.2 175.3L951.3 217.8L951.4 197.5L951.5 230.7L951.5 202.1L951.6 195.4L951.7 206.2L951.8 227.3L951.9 230.4L952 179.7L952.1 219.5L952.1 186.7L952.2 201.4L952.3 221.7L952.4 216.8L952.5 197.1L952.6 210.8L952.7 212L952.7 209.4L952.8 199L952.9 207.2L953 210.1L953.1 182.1L953.2 206.5L953.3 220.5L953.4 220.1L953.4 210.2L953.5 219.5L953.6 157.3L953.7 185L953.8 222L953.9 218.7L954 217.9L954 207L954.1 214.9L954.2 217.8L954.3 208.3L954.4 209.3L954.5 217.4L954.5 210.2L954.6 214.5L954.7 215.8L954.8 220.2L954.9 220.7L955 209.7L955.1 233.3L955.1 227.9L955.2 225.5L955.3 196L955.4 224.1L955.5 188L955.6 219.7L955.7 206.2L955.7 243L955.8 167.9L955.9 218L956 222.7L956.1 188.2L956.2 202.4L956.2 209.1L956.3 200.2L956.4 194.1L956.5 223L956.6 180.9L956.7 236.2L956.8 118.5L956.8 250.6L956.9 197.6L957 224.6L957.1 182.5L957.2 263.7L957.3 244.7L957.3 216.3L957.4 204.1L957.5 228.6L957.6 205.3L957.7 205.8L957.8 218.2L957.8 209.5L957.9 206L958 221L958.1 215.9L958.2 208.8L958.3 203.6L958.4 218L958.4 211.3L958.5 219.9L958.6 188.9L958.7 203.5L958.8 219.1L958.9 221.2L958.9 214.1L959 216.1L959.1 194L959.2 229.7L959.3 150L959.4 261.5L959.4 227L959.5 270L959.6 217.1L959.7 270L959.8 86.6L959.9 213L959.9 181.9L960 247.9L960.1 202.2L960.2 217.1L960.3 193.9L960.4 198.4L960.4 197.2L960.5 233.1L960.6 212.9L960.7 178.8L960.8 233.1L960.8 225.4L960.9 233.3L961 209L961.1 224.1L961.2 205.5L961.3 220.4L961.3 202.7L961.4 221.7L961.5 129.3L961.6 194.5L961.7 209.4L961.8 130.4L961.8 177.5L961.9 245.1L962 180.2L962.1 224.2L962.2 248.5L962.2 186.4L962.3 225.4L962.4 168.1L962.5 270L962.6 254.3L962.7 98.1L962.7 145.7L962.8 106.4L962.9 217.7L963 209.3L963.1 207.8L963.1 195.9L963.2 216.4L963.3 216.2L963.4 209.6L963.5 197.4L963.6 226.4L963.6 203.3L963.7 182.5L963.8 212.2L963.9 204.1L964 228.3L964 215.6L964.1 221.8L964.2 184.3L964.3 219.5L964.4 211.6L964.5 201.7L964.5 165.7L964.6 222.3L964.7 154.1L964.8 270L964.9 270L964.9 216.5L965 249.7L965.1 244.8L965.2 98.9L965.3 270L965.3 210.9L965.4 220.1L965.5 210.9L965.6 254.8L965.7 213.2L965.7 184.4L965.8 178.7L965.9 160.3L966 212.2L966.1 199.6L966.1 170.1L966.2 197.7L966.3 196.6L966.4 212.7L966.5 215.6L966.5 215.7L966.6 217.9L966.7 215.6L966.8 221.7L966.9 214.8L967 231L967 218.2L967.1 226.8L967.2 219.6L967.3 226.8L967.4 215L967.4 205.3L967.5 209.4L967.6 204.8L967.7 209.5L967.7 218.1L967.8 213.3L967.9 205.2L968 222.8L968.1 248.8L968.1 208L968.2 174.3L968.3 112.5L968.4 270L968.5 270L968.5 166L968.6 91.1L968.7 156.1L968.8 163.2L968.9 270L968.9 250.3L969 128.3L969.1 134.3L969.2 185L969.3 110.6L969.3 249L969.4 80L969.5 199.3L969.6 270L969.7 118.7L969.7 234.2L969.8 191.1L969.9 242.1L970 228.6L970 270L970.1 190.4L970.2 105L970.3 270L970.4 239.2L970.4 171.1L970.5 223L970.6 182.3L970.7 211.6L970.8 181.3L970.8 194L970.9 210.5L971 214L971.1 265L971.2 122.1L971.2 179.6L971.3 243.1L971.4 203.7L971.5 223.6L971.5 161L971.6 225.4L971.7 243.5L971.8 223.3L971.9 193.7L971.9 210.4L972 184.4L972.1 209.6L972.2 211.5L972.2 247.4L972.3 153.1L972.4 171.2L972.5 243.8L972.6 215.9L972.6 197L972.7 182.1L972.8 247.7L972.9 257.3L972.9 222.4L973 227.7L973.1 166.6L973.2 80L973.3 234L973.3 192.1L973.4 241.1L973.5 215.5L973.6 214.4L973.6 200.3L973.7 212.6L973.8 208.9L973.9 203.8L974 203.2L974 221.5L974.1 204.8L974.2 220.1L974.3 191.4L974.3 222.8L974.4 160.7L974.5 226.6L974.6 208.5L974.6 190.9L974.7 234.5L974.8 171.7L974.9 174.8L975 145.6L975 257.8L975.1 242.1L975.2 183.7L975.3 257L975.3 172.7L975.4 221.8L975.5 219.9L975.6 212.8L975.6 245.6L975.7 199.1L975.8 222L975.9 246.9L976 249.9L976 224.6L976.1 157L976.2 262.5L976.3 184.7L976.3 215.7L976.4 180.7L976.5 227.3L976.6 236.5L976.6 218.5L976.7 228.5L976.8 270L976.9 141L976.9 204.4L977 192.7L977.1 207.1L977.2 213.2L977.2 223.3L977.3 220.7L977.4 214.6L977.5 243.3L977.6 223.5L977.6 212.3L977.7 236.9L977.8 203.1L977.9 181.2L977.9 200.7L978 195.2L978.1 233.6L978.2 178.6L978.2 216.2L978.3 213.2L978.4 218.3L978.5 206.9L978.5 199.2L978.6 214.3L978.7 201L978.8 170.7L978.8 231.5L978.9 192.6L979 214.5L979.1 215.4L979.1 218.1L979.2 207.5L979.3 167.6L979.4 179.1L979.4 195.4L979.5 213.3L979.6 203.3L979.7 189.7L979.7 216.9L979.8 198.5L979.9 177.2L980 221.5L980 220.7L980.1 213.7L980.2 220.3L980.3 211.8L980.3 212.8L980.4 224.3L980.5 210.7L980.6 225.3L980.6 187.5L980.7 224.7L980.8 221L980.9 188.3L980.9 204.2L981 215.8L981.1 217.4L981.2 220.6L981.2 195.7L981.3 218.7L981.4 221.4L981.5 221.5L981.5 228.4L981.6 218.7L981.7 207.2L981.8 152.4L981.8 270L981.9 148.7L982 101.9L982.1 270L982.1 160.1L982.2 241.9L982.3 214.4L982.4 214.8L982.4 210.9L982.5 207.8L982.6 219.9L982.6 215.7L982.7 211L982.8 223.6L982.9 210.1L982.9 209.3L983 187.9L983.1 233.5L983.2 190.1L983.2 211.9L983.3 218.5L983.4 210.9L983.5 218.3L983.5 217.3L983.6 209.9L983.7 207.4L983.8 214.5L983.8 214L983.9 214.8L984 216.7L984 224.4L984.1 178.7L984.2 174.7L984.3 200.7L984.3 152.3L984.4 215.2L984.5 153.3L984.6 182.9L984.6 199.4L984.7 245.5L984.8 204.8L984.9 215.4L984.9 216.1L985 225.3L985.1 200.8L985.1 236.1L985.2 239.1L985.3 193.9L985.4 221.3L985.4 230.9L985.5 205.4L985.6 222.1L985.7 217.1L985.7 218.5L985.8 195.4L985.9 204.2L985.9 203.4L986 214.3L986.1 212.1L986.2 219.9L986.2 220.5L986.3 217.9L986.4 223L986.5 197.8L986.5 229.2L986.6 235.8L986.7 204.9L986.7 211L986.8 159.4L986.9 227.2L987 217.4L987 198.3L987.1 219L987.2 222.5L987.3 221.1L987.3 208.5L987.4 226.7L987.5 155.9L987.5 202L987.6 184.6L987.7 208.8L987.8 218.4L987.8 215.7L987.9 218.4L988 216.6L988 199.6L988.1 217.5L988.2 188.4L988.3 213.6L988.3 159.3L988.4 174.1L988.5 189.7L988.5 233.7L988.6 154.2L988.7 127.2L988.8 270L988.8 216.4L988.9 156.7L989 270L989 270L989.1 189.8L989.2 236.2L989.3 194.9L989.3 214L989.4 212.4L989.5 230.6L989.5 208.3L989.6 221.7L989.7 202.9L989.8 208.9L989.8 202.3L989.9 199.7L990 210.9L990 222.3L990.1 198.7L990.2 210.5L990.3 221L990.3 211.2L990.4 203.9L990.5 214.8L990.5 215.3L990.6 205.5L990.7 210.1L990.8 208.4L990.8 215.8L990.9 210.8L991 219.6L991 226L991.1 216.8L991.2 212.8L991.3 203.2L991.3 201.4L991.4 211.7L991.5 205L991.5 210.8L991.6 218L991.7 209L991.7 211.4L991.8 226.1L991.9 224.9L992 212.2L992 206.2L992.1 191.4L992.2 196.5L992.2 226.4L992.3 217.7L992.4 197.7L992.5 166.6L992.5 144.2L992.6 158.4L992.7 225.9L992.7 218.7L992.8 223.8L992.9 209.7L992.9 214.8L993 215L993.1 214L993.2 198.4L993.2 217.5L993.3 170.7L993.4 226.4L993.4 200L993.5 225.9L993.6 223.6L993.6 203.9L993.7 223.1L993.8 217.7L993.9 222.3L993.9 199.5L994 169.4L994.1 215.8L994.1 183.3L994.2 214.9L994.3 220.2L994.3 208.4L994.4 209.8L994.5 217.6L994.6 204.7L994.6 205.5L994.7 217.1L994.8 214.2L994.8 215.4L994.9 212.8L995 215.6L995 210.7L995.1 216.1L995.2 201.9L995.2 205.9L995.3 222L995.4 228.5L995.5 219.2L995.5 213.5L995.6 236.3L995.7 223.4L995.7 194.8L995.8 224.1L995.9 219.6L995.9 194.3L996 175.7L996.1 168L996.1 161.2L996.2 223.3L996.3 270L996.4 211.3L996.4 190.3L996.5 117.4L996.6 183.3L996.6 169.1L996.7 187.7L996.8 117.3L996.8 187.3L996.9 189.3L997 240.1L997 195.7L997.1 203.1L997.2 110.1L997.2 150.4L997.3 189.8L997.4 138.1L997.5 101.8L997.5 231.5L997.6 175.1L997.7 195.5L997.7 215.3L997.8 191.7L997.9 205.8L997.9 214.9L998 222L998.1 193.8L998.1 215.2L998.2 227.3L998.3 222.9L998.3 212.8L998.4 213.1L998.5 222.8L998.5 180.5L998.6 153.3L998.7 200.4L998.8 255.3L998.8 176.6L998.9 210.2L999 188.1L999 211.5L999.1 270L999.2 80.4L999.2 230.9L999.3 102.3L999.4 80L999.4 220.9L999.5 158.6L999.6 142L999.6 248.3L999.7 183.9L999.8 188.4L999.8 155.7L999.9 199.7L1000 215.5L1000 225.2L1000.1 202L1000.2 218L1000.2 223.8L1000.3 128.7L1000.4 234L1000.4 218.8L1000.5 262.5L1000.6 163.6L1000.6 175.9L1000.7 270L1000.8 217.6L1000.9 187.2L1000.9 141.7L1001 158.8L1001.1 270L1001.1 192.3L1001.2 198.5L1001.3 183.9L1001.3 229.6L1001.4 80L1001.5 270L1001.5 270L1001.6 80L1001.7 159.9L1001.7 80.6L1001.8 203.8L1001.9 171.2L1001.9 243.6L1002 91.7L1002.1 80L1002.1 254.3L1002.2 205.3L1002.3 80L1002.3 270L1002.4 98.5L1002.5 84.6L1002.5 172.7L1002.6 80L1002.7 133.4L1002.7 88L1002.8 185.5L1002.9 80L1002.9 251.3L1003 192.8L1003.1 136.6L1003.1 112.4L1003.2 266.8L1003.3 118.9L1003.3 135.2L1003.4 260.9L1003.5 80L1003.5 104.2L1003.6 204L1003.7 80L1003.7 104L1003.8 143.5L1003.9 270L1003.9 80L1004 187.3L1004.1 265.9L1004.1 268.1L1004.2 187.9L1004.3 243.4L1004.3 148.8L1004.4 224.8L1004.5 170.9L1004.5 229.3L1004.6 196.9L1004.7 224.4L1004.7 215.4L1004.8 247.5L1004.9 205.5L1004.9 220.2L1005 131.8L1005 200.4L1005.1 189.5L1005.2 226.4L1005.2 226.2L1005.3 214.4L1005.4 215.5L1005.4 219.5L1005.5 234.8L1005.6 200.2L1005.6 242.8L1005.7 191.6L1005.8 220L1005.8 227L1005.9 219.1L1006 216.9L1006 246.8L1006.1 197.4L1006.2 202.8L1006.2 230.4L1006.3 200.5L1006.4 213.9L1006.4 217.2L1006.5 200.2L1006.6 188.3L1006.6 199.3L1006.7 214L1006.8 200.3L1006.8 218.8L1006.9 200.8L1007 202.7L1007 217.1L1007.1 196.6L1007.1 211.7L1007.2 206.4L1007.3 219.1L1007.3 205.9L1007.4 203.7L1007.5 243.3L1007.5 217.1L1007.6 222.4L1007.7 193.1L1007.7 218.4L1007.8 214L1007.9 246.8L1007.9 198.1L1008 208L1008.1 211.5L1008.1 235.7L1008.2 223.5L1008.3 216.7L1008.3 191L1008.4 185.6L1008.4 207.8L1008.5 214.3L1008.6 200L1008.6 170.2L1008.7 243.5L1008.8 199.8L1008.8 183.9L1008.9 229.4L1009 222L1009 203.5L1009.1 229.3L1009.2 227.9L1009.2 206.8L1009.3 193L1009.4 230.5L1009.4 196.2L1009.5 193.6L1009.5 213.1L1009.6 199.4L1009.7 198.7L1009.7 204.8L1009.8 205L1009.9 216.2L1009.9 221.5L1010 227.8L1010.1 233.9L1010.1 219L1010.2 208.4L1010.3 182.3L1010.3 205.9L1010.4 212.1L1010.4 239.3L1010.5 216.4L1010.6 205.8L1010.6 237.2L1010.7 178.1L1010.8 216.3L1010.8 215.5L1010.9 210.6L1011 213.3L1011 216.8L1011.1 216.5L1011.2 223L1011.2 235.1L1011.3 223.9L1011.3 202.7L1011.4 220.5L1011.5 204.3L1011.5 218.5L1011.6 211.6L1011.7 217L1011.7 183.7L1011.8 244.3L1011.9 209.6L1011.9 221.8L1012 198.8L1012 185.5L1012.1 235.4L1012.2 214.5L1012.2 182.4L1012.3 166L1012.4 136.1L1012.4 246.3L1012.5 206.1L1012.6 224.9L1012.6 203.2L1012.7 200.8L1012.7 203.9L1012.8 203.9L1012.9 206.5L1012.9 210L1013 191L1013.1 189.6L1013.1 197.9L1013.2 206.6L1013.3 208.4L1013.3 202.2L1013.4 211.8L1013.4 196.8L1013.5 183.1L1013.6 209L1013.6 197.6L1013.7 191.8L1013.8 193.9L1013.8 179.7L1013.9 203.6L1013.9 188.7L1014 225.1L1014.1 200.9L1014.1 207.5L1014.2 216.8L1014.3 193.5L1014.3 184.9L1014.4 218.9L1014.4 186.6L1014.5 206.9L1014.6 211.4L1014.6 214.1L1014.7 213.9L1014.8 188.2L1014.8 207.6L1014.9 201.4L1015 213.1L1015 219.8L1015.1 198.6L1015.1 208.4L1015.2 217.6L1015.3 202.6L1015.3 192.7L1015.4 195.3L1015.5 227.9L1015.5 222.8L1015.6 212.7L1015.6 189.2L1015.7 218.4L1015.8 219.1L1015.8 201.5L1015.9 225.2L1016 223.9L1016 163.7L1016.1 215.7L1016.1 214.4L1016.2 222.5L1016.3 228.8L1016.3 214.6L1016.4 177.5L1016.5 221.6L1016.5 185L1016.6 210.5L1016.6 215.2L1016.7 213.2L1016.8 218.5L1016.8 213.8L1016.9 201.8L1016.9 222.8L1017 203.4L1017.1 208.4L1017.1 190.9L1017.2 223.3L1017.3 201L1017.3 225.5L1017.4 212.6L1017.4 219.1L1017.5 230L1017.6 216.7L1017.6 189.8L1017.7 191.8L1017.8 202.3L1017.8 202.6L1017.9 216L1017.9 199L1018 216L1018.1 229.6L1018.1 221.6L1018.2 213.1L1018.2 218L1018.3 203.5L1018.4 214L1018.4 198.5L1018.5 211.3L1018.6 215.8L1018.6 224.8L1018.7 209.6L1018.7 222.5L1018.8 213.2L1018.9 214.1L1018.9 211.1L1019 206L1019 206.4L1019.1 205.6L1019.2 212.7L1019.2 202.2L1019.3 216.3L1019.4 217.5L1019.4 182.6L1019.5 214.9L1019.5 217.4L1019.6 232.7L1019.7 215.4L1019.7 211.5L1019.8 221L1019.8 195.7L1019.9 224.7L1020 219L1020 207.7L1020.1 237.8L1020.1 227.3L1020.2 227.5L1020.3 218.3L1020.3 226.7L1020.4 146.2L1020.5 223.8L1020.5 179.8L1020.6 199.8L1020.6 187.3L1020.7 184.5L1020.8 201.8L1020.8 214.1L1020.9 213.2L1020.9 208.2L1021 215.4L1021.1 205.2L1021.1 218.7L1021.2 212.5L1021.2 211.2L1021.3 216.1L1021.4 212.3L1021.4 216L1021.5 216.4L1021.5 226.5L1021.6 197.9L1021.7 219.6L1021.7 199L1021.8 215.2L1021.9 202.2L1021.9 204.3L1022 197.4L1022 222.8L1022.1 214.7L1022.2 212.1L1022.2 216.7L1022.3 217.2L1022.3 201.3L1022.4 205.9L1022.5 208.1L1022.5 209.1L1022.6 212.9L1022.6 213.7L1022.7 212.2L1022.8 214.7L1022.8 219.1L1022.9 210.6L1022.9 212.9L1023 216.3L1023.1 210.3L1023.1 210.4L1023.2 209.8L1023.2 214.6L1023.3 212.3L1023.4 208.5L1023.4 195.9L1023.5 216.6L1023.5 213.7L1023.6 200.5L1023.7 202.7L1023.7 214L1023.8 254.3L1023.8 227.8L1023.9 223.4L1024 270L1024 181.8L1024.1 80L1024.1 183.3L1024.2 213.1L1024.3 223L1024.3 205.3L1024.4 227.5L1024.4 217.1L1024.5 183.1L1024.6 213.6L1024.6 216.4L1024.7 201.8L1024.7 210.9L1024.8 209.3L1024.9 213.3L1024.9 208.2L1025 208.9L1025 203.1L1025.1 212.4L1025.2 209.1L1025.2 203.3L1025.3 208L1025.3 211.5L1025.4 199.9L1025.4 228.7L1025.5 200L1025.6 220.9L1025.6 204.2L1025.7 226L1025.7 193.7L1025.8 215L1025.9 208L1025.9 202.3L1026 207.4L1026 206L1026.1 207.4L1026.2 205.9L1026.2 211.4L1026.3 214.5L1026.3 217.7L1026.4 212.7L1026.5 214L1026.5 211.2L1026.6 212.5L1026.6 210.9L1026.7 213.5L1026.8 212.8L1026.8 206.1L1026.9 211.4L1026.9 212.3L1027 210.6L1027 210.9L1027.1 212.3L1027.2 210.5L1027.2 209.3L1027.3 213.6L1027.3 213.1L1027.4 207.7L1027.5 206.6L1027.5 212.5L1027.6 213.6L1027.6 206.1L1027.7 209.6L1027.8 214.4L1027.8 205.8L1027.9 214L1027.9 213.9L1028 205.5L1028 211.2L1028.1 213.1L1028.2 200.8L1028.2 208.7L1028.3 218.6L1028.3 193.2L1028.4 215.7L1028.5 214.7L1028.5 217.8L1028.6 219.3L1028.6 203.8L1028.7 201.8L1028.7 215.7L1028.8 212.6L1028.9 213.3L1028.9 213.8L1029 206.9L1029 207.3L1029.1 212.1L1029.2 212.7L1029.2 212.3L1029.3 212.1L1029.3 214.3L1029.4 211.7L1029.4 208.8L1029.5 208.4L1029.6 210.3L1029.6 213.3L1029.7 214.2L1029.7 214.6L1029.8 214.2L1029.9 206L1029.9 209.3L1030 210L1030 202.8L1030.1 208.4L1030.1 206.5L1030.2 209.2L1030.3 212L1030.3 215.3L1030.4 212.2L1030.4 212L1030.5 212.7L1030.6 209.1L1030.6 209.7L1030.7 211.4L1030.7 211.6L1030.8 211.3L1030.8 208.1L1030.9 211.7L1031 213.1L1031 209L1031.1 209.8L1031.1 213.9L1031.2 210.5L1031.2 214.5L1031.3 211.3L1031.4 214.6L1031.4 203.7L1031.5 209L1031.5 211.7L1031.6 210.3L1031.6 211.5L1031.7 211.6L1031.8 211.1L1031.8 203.2L1031.9 206.8L1031.9 205.4L1032 214.2L1032.1 211.5L1032.1 210.7L1032.2 204.8L1032.2 211.7L1032.3 210.2L1032.3 212.3L1032.4 211L1032.5 211L1032.5 208.1L1032.6 210.6L1032.6 211L1032.7 210.7L1032.7 209.1L1032.8 212.1L1032.9 213L1032.9 205.7L1033 213.6L1033 211.5L1033.1 210.2L1033.1 211.9L1033.2 210.3L1033.3 214.6L1033.3 210.9L1033.4 200.8L1033.4 209.6L1033.5 210.2L1033.5 211.3L1033.6 211L1033.7 212.7L1033.7 211.5L1033.8 207.6L1033.8 206.2L1033.9 212.6L1033.9 207.8L1034 207.7L1034.1 210.3L1034.1 211L1034.2 211.8L1034.2 209.9L1034.3 208.7L1034.3 210.7L1034.4 212.6L1034.4 211.5L1034.5 213.4L1034.6 215.3L1034.6 215.4L1034.7 212.3L1034.7 206.9L1034.8 212.2L1034.8 207.7L1034.9 212.9L1035 211.4L1035 210.9L1035.1 212.5L1035.1 208.2L1035.2 210.2L1035.2 210.6L1035.3 209.2L1035.4 211.1L1035.4 210L1035.5 211.3L1035.5 211.1L1035.6 211.8L1035.6 211.8L1035.7 207.5L1035.8 211L1035.8 209.1L1035.9 210.4L1035.9 210.8L1036 211.8L1036 209.7L1036.1 209.6L1036.1 211.6L1036.2 211.4L1036.3 210.4L1036.3 211L1036.4 209.6L1036.4 210.2L1036.5 210.6L1036.5 200.5L1036.6 222.4L1036.7 199.7L1036.7 221.7L1036.8 218L1036.8 188.1L1036.9 172.9L1036.9 217.4L1037 174.2L1037 211.9L1037.1 208.8L1037.2 177L1037.2 198.9L1037.3 212.5L1037.3 211.6L1037.4 211.3L1037.4 211.3L1037.5 211.1L1037.5 209.1L1037.6 210.4L1037.7 210.1L1037.7 210.1L1037.8 210.2L1037.8 210.6L1037.9 209.7L1037.9 211.1L1038 210.4L1038 208.1L1038.1 210.8L1038.2 209.7L1038.2 210.9L1038.3 210.9L1038.3 210.6L1038.4 208.9L1038.4 210L1038.5 210.2L1038.5 210.6L1038.6 211.2L1038.7 209.6L1038.7 209.1L1038.8 210.1L1038.8 209.6L1038.9 210.2L1038.9 212.3L1039 208.5L1039 208.6L1039.1 210.3L1039.2 210.8L1039.2 211.4L1039.3 210.5L1039.3 211.5L1039.4 210.7L1039.4 210.7L1039.5 210.7L1039.5 210.9L1039.6 210.1L1039.7 210.2L1039.7 210.9L1039.8 210.4L1039.8 210.8L1039.9 210.2L1039.9 209.9L1040 210.6L1040 207.8L1040.1 209.6L1040.2 211.1L1040.2 209L1040.3 210.1L1040.3 211L1040.4 210L1040.4 210.7L1040.5 210.6L1040.5 210.4L1040.6 210.7L1040.7 211.4L1040.7 210.2L1040.8 211.3L1040.8 210.8L1040.9 209.4L1040.9 210L1041 210.8L1041 209.9L1041.1 208.5L1041.1 211.1L1041.2 208.7L1041.3 211.3L1041.3 211.1L1041.4 210.3L1041.4 211.3L1041.5 210.7L1041.5 211.2L1041.6 209.9L1041.6 209.3L1041.7 208.7L1041.7 205.8L1041.8 211.5L1041.9 211L1041.9 208.5L1042 212.1L1042 211.6L1042.1 212.6L1042.1 211.6L1042.2 211.3L1042.2 211.1L1042.3 210.4L1042.3 208.4L1042.4 210.9L1042.5 210.7L1042.5 210.7L1042.6 210.6L1042.6 210.1L1042.7 209.9L1042.7 210.7L1042.8 210.4L1042.8 210.9L1042.9 210.1L1042.9 210.6L1043 210.4L1043.1 209L1043.1 209.5L1043.2 209.8L1043.2 210.9L1043.3 209.5L1043.3 210.6L1043.4 209.8L1043.4 210.5L1043.5 210.7L1043.5 210.7L1043.6 210.6L1043.7 210.4L1043.7 209.4L1043.8 211.2L1043.8 210.6L1043.9 209.5L1043.9 211.4L1044 211L1044 207.8L1044.1 211.2L1044.1 210.1L1044.2 209.5L1044.2 209.9L1044.3 211L1044.4 211.6L1044.4 210L1044.5 211.8L1044.5 210.5L1044.6 210.3L1044.6 209.8L1044.7 210.7L1044.7 210.7L1044.8 210.4L1044.8 211.2L1044.9 208.1L1044.9 210.7L1045 210L1045.1 209L1045.1 210.4L1045.2 208.3L1045.2 211.7L1045.3 207.1L1045.3 211.8L1045.4 208.4L1045.4 208.9L1045.5 211.6L1045.5 210.7L1045.6 210.9L1045.6 211.3L1045.7 211.4L1045.8 210L1045.8 210.8L1045.9 209.8L1045.9 211L1046 208.5L1046 210L1046.1 212.4L1046.1 211.7L1046.2 211L1046.2 208.2L1046.3 211.5L1046.3 211L1046.4 209.1L1046.4 210.5L1046.5 209.6L1046.6 211.6L1046.6 207.2L1046.7 208.1L1046.7 207.9L1046.8 211.2L1046.8 210.6L1046.9 210.8L1046.9 211.2L1047 211.2L1047 210.1L1047.1 209.6L1047.1 210L1047.2 211L1047.2 209.3L1047.3 208.3L1047.4 210.6L1047.4 211.2L1047.5 210.5L1047.5 210L1047.6 211.3L1047.6 209.4L1047.7 209.7L1047.7 210.5L1047.8 210.5L1047.8 211.1L1047.9 209.9L1047.9 210.6L1048 210.5L1048 211L1048.1 211.2L1048.1 209.4L1048.2 210.2L1048.3 210.3L1048.3 210.7L1048.4 211L1048.4 210.8L1048.5 211.3L1048.5 209.9L1048.6 211L1048.6 209.9L1048.7 210.2L1048.7 210.8L1048.8 208.9L1048.8 212.3L1048.9 208L1048.9 211.5L1049 209.4L1049 210.4L1049.1 210.9L1049.2 211.3L1049.2 207.9L1049.3 211.2L1049.3 211.3L1049.4 211L1049.4 211.2L1049.5 211.3L1049.5 209.9L1049.6 211.3L1049.6 210.1L1049.7 210L1049.7 209.4L1049.8 210.8L1049.8 211.2L1049.9 210.7L1049.9 209.3L1050 211.2L1050 212.2L1050.1 211L1050.1 211.3L1050.2 211.5L1050.3 208.7L1050.3 210.6L1050.4 210.9L1050.4 210.6L1050.5 212.3L1050.5 210.7L1050.6 211.1L1050.6 208.9L1050.7 210.8L1050.7 209.3L1050.8 211.6L1050.8 211.3L1050.9 210.5L1050.9 210.5L1051 208.7L1051 210.8L1051.1 209.3L1051.1 210.9L1051.2 211.3L1051.2 211L1051.3 209.7L1051.4 211.1L1051.4 210.8L1051.5 210.7L1051.5 211.6L1051.6 214.6L1051.6 208.1L1051.7 211.6L1051.7 211.3L1051.8 210.3L1051.8 208.4L1051.9 210.4L1051.9 211.9L1052 210.9L1052 210.9L1052.1 211.2L1052.1 210.8L1052.2 211.2L1052.2 205.1L1052.3 205.5L1052.3 207.7L1052.4 208.3L1052.4 207.1L1052.5 213.3L1052.5 211.4L1052.6 207L1052.6 211.1L1052.7 209.2L1052.8 210.5L1052.8 208.1L1052.9 209.9L1052.9 209.3L1053 212L1053 207.5L1053.1 210.7L1053.1 210.8L1053.2 212.2L1053.2 212.3L1053.3 207L1053.3 219.1L1053.4 215.8L1053.4 205L1053.5 207.3L1053.5 211L1053.6 208L1053.6 210.9L1053.7 213.3L1053.7 212.4L1053.8 204.8L1053.8 207.5L1053.9 212.9L1053.9 212.7L1054 207.2L1054 215.9L1054.1 210.6L1054.1 211.4L1054.2 210.9L1054.2 211L1054.3 203.8L1054.3 215.5L1054.4 202.1L1054.4 217.2L1054.5 216.6L1054.6 211.2L1054.6 213.4L1054.7 209.9L1054.7 212.2L1054.8 213.2L1054.8 210.8L1054.9 211.5L1054.9 200L1055 207.8L1055 218.5L1055.1 210.9L1055.1 216.2L1055.2 211.3L1055.2 213.3L1055.3 202.8L1055.3 209.5L1055.4 207.1L1055.4 209.1L1055.5 205.8L1055.5 205.6L1055.6 214.2L1055.6 204.7L1055.7 199.7L1055.7 215.9L1055.8 201.2L1055.8 216.7L1055.9 215L1055.9 215.8L1056 193.8L1056 218.4L1056.1 206.2L1056.1 207.6L1056.2 218.9L1056.2 199.9L1056.3 211.2L1056.3 211.3L1056.4 221.2L1056.4 196.1L1056.5 216.6L1056.5 214.8L1056.6 221.1L1056.6 204.5L1056.7 224.2L1056.7 185.2L1056.8 181.9L1056.8 183.1L1056.9 218.7L1056.9 218.3L1057 245.6L1057 214.9L1057.1 191.6L1057.1 206.7L1057.2 211.3L1057.2 192.5L1057.3 207.3L1057.3 252.4L1057.4 219.3L1057.4 163.7L1057.5 231.5L1057.6 210.8L1057.6 187L1057.7 212.4L1057.7 201.1L1057.8 221.3L1057.8 211.2L1057.9 270L1057.9 220.8L1058 179L1058 253.2L1058.1 260L1058.1 178.9L1058.2 209.9L1058.2 202.6L1058.3 213.9L1058.3 203.5L1058.4 204.1L1058.4 171.7L1058.5 200.6L1058.5 212.8L1058.6 269.7L1058.6 226.9L1058.7 238.4L1058.7 174.5L1058.8 218.4L1058.8 171.4L1058.9 227.2L1058.9 260.4L1059 179.4L1059 270L1059.1 176.9L1059.1 204.1L1059.2 270L1059.2 175L1059.3 195.7L1059.3 177.1L1059.4 224.8L1059.4 175.3L1059.5 196L1059.5 204.5L1059.6 229.5L1059.6 146.3L1059.7 205L1059.7 261.6L1059.8 151.7L1059.8 158.4L1059.9 206.4L1059.9 188L1060 80.3L1060 248.8L1060.1 219.5L1060.1 144.5L1060.2 217.1L1060.2 211.5L1060.3 167.6L1060.3 270L1060.4 164.6L1060.4 98.8L1060.5 257.8L1060.5 145.4L1060.6 190.8L1060.6 80L1060.7 270L1060.7 129.3L1060.8 104.1L1060.8 206.7L1060.9 80L1060.9 119.3L1061 182.9L1061 104.2L1061.1 105.8L1061.1 80L1061.1 80L1061.2 80L1061.2 80L1061.3 106.5L1061.3 204L1061.4 251.8L1061.4 270L1061.5 213.5L1061.5 270L1061.6 267.6L1061.6 154.1L1061.7 132.4L1061.7 192.6L1061.8 250.8L1061.8 184.6L1061.9 261.3L1061.9 119.7L1062 205.8L1062 270L1062.1 220.8L1062.1 146.6L1062.2 163.6L1062.2 157.4L1062.3 244.3L1062.3 213L1062.4 198.1L1062.4 165L1062.5 163L1062.5 204.1L1062.6 212.6L1062.6 192.6L1062.7 191.4L1062.7 211L1062.8 196.8L1062.8 212.7L1062.9 220.8L1062.9 207L1063 205.2L1063 203.5L1063.1 199.5L1063.1 199.1L1063.2 207.7L1063.2 198.4L1063.3 225.3L1063.3 220.6L1063.4 201.5L1063.4 215.5L1063.5 209.1L1063.5 215.9L1063.6 188.5L1063.6 217L1063.7 215.9L1063.7 193.4L1063.8 215.8L1063.8 215.2L1063.9 206.6L1063.9 193.4L1064 208.8L1064 233.4L1064 230.8L1064.1 270L1064.1 266.2L1064.2 213L1064.2 270L1064.3 240.6L1064.3 209.2L1064.4 252.4L1064.4 193L1064.5 232.5L1064.5 210.6L1064.6 220.1L1064.6 172.4L1064.7 222.6L1064.7 215L1064.8 182.9L1064.8 223.4L1064.9 246.3L1064.9 220.9L1065 199.3L1065 217.5L1065.1 214.6L1065.1 189.5L1065.2 199.3L1065.2 217.8L1065.3 198.2L1065.3 208.2L1065.4 218.1L1065.4 208.7L1065.5 208.4L1065.5 205L1065.6 214.7L1065.6 236.8L1065.7 216.9L1065.7 199.3L1065.8 194.3L1065.8 206.4L1065.8 228.5L1065.9 202.5L1065.9 227.6L1066 200.1L1066 211.4L1066.1 187.9L1066.1 220.7L1066.2 198.8L1066.2 219.8L1066.3 212.5L1066.3 196.1L1066.4 211.9L1066.4 235.6L1066.5 229.2L1066.5 177.2L1066.6 231.6L1066.6 226.3L1066.7 228.6L1066.7 228.5L1066.8 236.3L1066.8 197.8L1066.9 202.8L1066.9 189.7L1067 190.2L1067 183.8L1067.1 156.6L1067.1 176.7L1067.1 171.4L1067.2 228.8L1067.2 270L1067.3 114.3L1067.3 200.6L1067.4 181.5L1067.4 223.7L1067.5 215.8L1067.5 222L1067.6 195.9L1067.6 222.2L1067.7 224.3L1067.7 196.7L1067.8 182.3L1067.8 250.4L1067.9 214L1067.9 190.9L1068 222.9L1068 190.2L1068.1 190.3L1068.1 200.3L1068.2 216.8L1068.2 217.3L1068.2 270L1068.3 175.6L1068.3 167.1L1068.4 243.2L1068.4 229.9L1068.5 232.6L1068.5 190.3L1068.6 219.1L1068.6 202.4L1068.7 210.6L1068.7 218.3L1068.8 226.8L1068.8 198L1068.9 192.6L1068.9 174.7L1069 217.4L1069 199.8L1069.1 236.5L1069.1 211.9L1069.2 203.6L1069.2 210.2L1069.3 194.9L1069.3 183.4L1069.3 218.9L1069.4 216L1069.4 193L1069.5 214.6L1069.5 198.8L1069.6 185L1069.6 196.2L1069.7 216.6L1069.7 222.6L1069.8 206.8L1069.8 205.1L1069.9 243.6L1069.9 235.4L1070 200.3L1070 207.9L1070.1 219.9L1070.1 225L1070.2 199.4L1070.2 221L1070.2 209.2L1070.3 208.7L1070.3 204.6L1070.4 182.9L1070.4 236.5L1070.5 233.1L1070.5 217.7L1070.6 205.5L1070.6 221.2L1070.7 218.2L1070.7 193.4L1070.8 194L1070.8 213.4L1070.9 241.2L1070.9 200.5L1071 194.7L1071 216.1L1071 212.4L1071.1 228.3L1071.1 192.6L1071.2 182.2L1071.2 198.4L1071.3 198L1071.3 226.3L1071.4 231.9L1071.4 202.8L1071.5 201.5L1071.5 203.8L1071.6 209.7L1071.6 211L1071.7 207.9L1071.7 225.7L1071.8 229.1L1071.8 196.1L1071.8 198L1071.9 181.1L1071.9 248.7L1072 199.8L1072 209.6L1072.1 209.4L1072.1 216.9L1072.2 232.4L1072.2 215.2L1072.3 181.9L1072.3 209.1L1072.4 219.4L1072.4 207L1072.5 206.6L1072.5 213L1072.5 191.2L1072.6 191.8L1072.6 219.2L1072.7 203.9L1072.7 176.7L1072.8 213.9L1072.8 193.9L1072.9 181.2L1072.9 188.5L1073 234.2L1073 229.2L1073.1 228.5L1073.1 231.2L1073.2 212.8L1073.2 217.1L1073.2 215.9L1073.3 202.5L1073.3 225.9L1073.4 231.9L1073.4 195.5L1073.5 176.5L1073.5 270L1073.6 188.4L1073.6 177L1073.7 206.7L1073.7 181.1L1073.8 161.9L1073.8 201.2L1073.9 212.1L1073.9 236.8L1073.9 199.7L1074 195.6L1074 246.9L1074.1 241.2L1074.1 218.9L1074.2 192.3L1074.2 240.9L1074.3 206.9L1074.3 173.8L1074.4 229.4L1074.4 200.9L1074.5 209.4L1074.5 226.2L1074.5 183L1074.6 209.2L1074.6 213.9L1074.7 161.4L1074.7 227.3L1074.8 232.2L1074.8 181.4L1074.9 233.5L1074.9 249.6L1075 239.4L1075 252.8L1075.1 246.7L1075.1 212.7L1075.1 179.9L1075.2 144.2L1075.2 179.3L1075.3 224.4L1075.3 168.4L1075.4 231.3L1075.4 244.5L1075.5 179.9L1075.5 209.3L1075.6 217.1L1075.6 179.8L1075.7 228L1075.7 224.6L1075.7 222.5L1075.8 208.5L1075.8 212.2L1075.9 222.4L1075.9 250.1L1076 226.3L1076 213.3L1076.1 177.5L1076.1 270L1076.2 212L1076.2 183.4L1076.3 247.4L1076.3 270L1076.3 189.2L1076.4 179.2L1076.4 182.7L1076.5 152.4L1076.5 192.7L1076.6 188.5L1076.6 250.2L1076.7 238.9L1076.7 194.8L1076.8 159.1L1076.8 125.2L1076.8 179.4L1076.9 204.7L1076.9 221.4L1077 261.6L1077 266.8L1077.1 231.1L1077.1 239.2L1077.2 222.8L1077.2 210.3L1077.3 176.7L1077.3 182.9L1077.3 239.2L1077.4 175.9L1077.4 169.4L1077.5 270L1077.5 175.3L1077.6 201.9L1077.6 231.6L1077.7 195.7L1077.7 192.2L1077.8 191.5L1077.8 211.4L1077.8 204.3L1077.9 208.3L1077.9 178.8L1078 190.8L1078 157.4L1078.1 170.2L1078.1 187.1L1078.2 188.9L1078.2 193.3L1078.3 204.1L1078.3 146.8L1078.3 174.8L1078.4 167.8L1078.4 270L1078.5 154.3L1078.5 155.3L1078.6 188.5L1078.6 213.9L1078.7 188.6L1078.7 244.5L1078.8 200.8L1078.8 164.6L1078.8 186.9L1078.9 246.3L1078.9 206.8L1079 139.1L1079 221.7L1079.1 190.3L1079.1 181.8L1079.2 122.6L1079.2 259.2L1079.3 167.7L1079.3 80L1079.3 80L1079.4 138.1L1079.4 224.7L1079.5 161.1L1079.5 153.8L1079.6 215.9L1079.6 228.3L1079.7 214.3L1079.7 240.3L1079.8 80L1079.8 182.1L1079.8 162.1L1079.9 148" stroke="#0072BD" stroke-width="2.2"/>
<path d="M192.5 258.5L216.3 205.2L239.1 157.5L245 146.5L251.6 135.8L257 129.3L263 124.4L267.5 122.3L272.3 121.1L277.5 120.8L282.6 121.3L289 122.8L295.1 125.4L300 127.5L310.4 134.7L320.7 143L331.1 150.3L341.5 156.5L351.8 163.3L362.2 167.9L372.5 173.1L382.9 177.2L393.3 181.4L403.6 184.9L414 188L424.4 190.7L429.5 191.7L432.6 188.6L434.7 186.1L437.8 189.2L443 193.2L451.3 196.5L459.6 198L470.7 200L491.5 203.1L512.2 205.2L532.9 207.3L553.6 208.7L574.4 209.8L595.1 210.6L609.6 210.8L647 211.8L650 212.8L704 212.8L706 213.8L737 213.8L739 211.6L741 213.8L860 214.2L1083 214.6" stroke="#D95319" stroke-width="2.0"/>
</g>
<g fill="none">
<path d="M297.5 345.0V507.0 M748.5 345.0V507.0 M157.0 426.0H1079.0" stroke="#DFDFDF" stroke-width="3"/>
<path d="M161.5 345.0V507.0 M196.5 345.0V507.0 M227.5 345.0V507.0 M253.5 345.0V507.0 M276.5 345.0V507.0 M432.5 345.0V507.0 M512.5 345.0V507.0 M568.5 345.0V507.0 M612.5 345.0V507.0 M647.4 345.0V507.0 M678.5 345.0V507.0 M704.5 345.0V507.0 M727.5 345.0V507.0 M883.5 345.0V507.0 M963.5 345.0V507.0 M1019.5 345.0V507.0 M1063.5 345.0V507.0" stroke="#262626" stroke-opacity="0.3" stroke-width="3" stroke-dasharray="1.8 2.2" stroke-dashoffset="1.80"/>
</g>
<g fill="none" stroke="#262626" stroke-width="3">
<rect x="155.5" y="343.5" width="925.0" height="165.0"/>
<path d="M161.5 508.5v-5.2M161.5 343.5v5.2 M196.5 508.5v-5.2M196.5 343.5v5.2 M227.5 508.5v-5.2M227.5 343.5v5.2 M253.5 508.5v-5.2M253.5 343.5v5.2 M276.5 508.5v-5.2M276.5 343.5v5.2 M432.5 508.5v-5.2M432.5 343.5v5.2 M512.5 508.5v-5.2M512.5 343.5v5.2 M568.5 508.5v-5.2M568.5 343.5v5.2 M612.5 508.5v-5.2M612.5 343.5v5.2 M647.4 508.5v-5.2M647.4 343.5v5.2 M678.5 508.5v-5.2M678.5 343.5v5.2 M704.5 508.5v-5.2M704.5 343.5v5.2 M727.5 508.5v-5.2M727.5 343.5v5.2 M883.5 508.5v-5.2M883.5 343.5v5.2 M963.5 508.5v-5.2M963.5 343.5v5.2 M1019.5 508.5v-5.2M1019.5 343.5v5.2 M1063.5 508.5v-5.2M1063.5 343.5v5.2 M297.5 508.5v-10M297.5 343.5v10 M748.5 508.5v-10M748.5 343.5v10 M155.5 426.0h10M1080.5 426.0h-10"/>
</g>
<g clip-path="url(#cp1)" fill="none" stroke-linejoin="round" stroke-linecap="butt">
<path d="M154.6 368.2L162.4 359.9L170.7 360.9L179 364L186.3 370.6L190.4 368.2L196 378.5L204.9 378.5L207 372.3L210.1 355.7L215.3 360.9L218.4 374.4L221.5 401.3L224.2 435.1L227.1 433.4L229.8 393L231.9 353.7L232.9 384.7L235 426.2L236.6 496.7L238.1 451.1L239.5 397.2L240.8 356.8L243.3 368.2L244.9 374.4L247.4 366.1L249.1 407.5L250.5 449L252 496.7L253.2 438.6L254.7 376.5L256.1 355.7L259.4 351.6L263 354.7L267.1 355.7L268.1 386.8L269.2 438.6L270.2 499.8L274.4 499.8L278.5 498.7L288.9 498.7L290.9 459.4L292 397.2L293 353.7L294 397.2L295 459L296.1 498.7L299.2 500.8L302.3 498.7L303.4 397.2L305 352.6L307.5 352.6L308.5 388.9L309.9 499L311.3 430L312.8 353L314.6 430L316.6 500.5L323.8 500.5L325.2 430L326.5 352.8L327.8 430L329 498L330.3 430L331.5 352.8L333.2 430L334.8 498.5L336 430L337.3 352.6L345 352.4L350 353L355 352.4L361.1 352.6L362.5 404L363.8 499.8L365 404L366.3 352.6L385 352.3L396 352.4L397.5 353.6L399 352.4L505 352.3" stroke="#0072BD" stroke-width="1.85"/>
<g clip-path="url(#cp1)" fill="#0072BD" stroke="none">
<path d="M504.9 351.8h4.2v74.6h-4.2zM518 351.8h7v74.6h-7zM526.3 351.8h19.5v74.6h-19.5zM547 351.8h5.6v74.6h-5.6zM555.1 351.8h1.6v74.6h-1.6zM561.9 351.8h2.7v74.6h-2.7zM566.1 351.8h1.6v74.6h-1.6zM594 351.8h1.7v74.6h-1.7zM599.2 351.8h1.8v74.6h-1.8zM612.4 351.8h2.1v74.6h-2.1zM646.2 351.8h1.9v74.6h-1.9zM654.3 351.8h1.7v74.6h-1.7zM661.1 351.8h1.7v74.6h-1.7zM670.5 351.8h2.5v74.6h-2.5zM677.7 351.8h1.7v74.6h-1.7zM680.4 351.8h3.5v74.6h-3.5zM684.6 351.8h1.4v74.6h-1.4zM689.5 351.8h1.3v74.6h-1.3zM693.7 351.8h1.2v74.6h-1.2zM697.4 351.8h1.3v74.6h-1.3zM701.1 351.8h2.1v74.6h-2.1zM704.2 351.8h3.6v74.6h-3.6zM712.3 351.8h1.7v74.6h-1.7zM726.4 351.8h2.1v74.6h-2.1zM729.5 351.8h5.2v74.6h-5.2zM738.4 351.8h2.5v74.6h-2.5zM744.7 351.8h1.4v74.6h-1.4zM747.6 351.8h4.3v74.6h-4.3zM756.4 351.8h1.5v74.6h-1.5zM758.9 351.8h10.8v74.6h-10.8zM771.1 351.8h5.2v74.6h-5.2zM778 351.8h7.9v74.6h-7.9zM788.3 351.8h2.5v74.6h-2.5zM792.1 351.8h3.1v74.6h-3.1zM797.3 351.8h5.5v74.6h-5.5zM804.9 351.8h2.1v74.6h-2.1zM808 351.8h7.9v74.6h-7.9zM820.9 351.8h24v74.6h-24zM845.8 351.8h3.3v74.6h-3.3zM850.3 351.8h11.6v74.6h-11.6zM863 351.8h15.9v74.6h-15.9zM881 351.8h201v74.6h-201zM506.2 426.4h1.6v74.8h-1.6zM519 426.4h4v74.8h-4zM524.2 426.4h4.6v74.8h-4.6zM530.4 426.4h3.1v74.8h-3.1zM535 426.4h8.7v74.8h-8.7zM545.3 426.4h12.5v74.8h-12.5zM561.3 426.4h7.9v74.8h-7.9zM593.6 426.4h2.1v74.8h-2.1zM598.2 426.4h3.7v74.8h-3.7zM611.4 426.4h3.5v74.8h-3.5zM646.6 426.4h2.7v74.8h-2.7zM652.8 426.4h3.2v74.8h-3.2zM660.1 426.4h3.1v74.8h-3.1zM670.1 426.4h4.1v74.8h-4.1zM676.3 426.4h11.8v74.8h-11.8zM689.1 426.4h2.1v74.8h-2.1zM692.6 426.4h6.5v74.8h-6.5zM700.1 426.4h3.1v74.8h-3.1zM703.6 426.4h4.2v74.8h-4.2zM711.9 426.4h2.5v74.8h-2.5zM725.4 426.4h3.5v74.8h-3.5zM729.5 426.4h6.3v74.8h-6.3zM737.8 426.4h3.1v74.8h-3.1zM745.1 426.4h7.9v74.8h-7.9zM756.2 426.4h20.1v74.8h-20.1zM778 426.4h7.9v74.8h-7.9zM788.3 426.4h6.9v74.8h-6.9zM797.3 426.4h5.5v74.8h-5.5zM804.9 426.4h11v74.8h-11zM820.9 426.4h28.2v74.8h-28.2zM850.3 426.4h231.7v74.8h-231.7z"/>
<path d="M519 500.4H638.6L639.6 493.6L640.4 497L641 500.4H1082" stroke="#0072BD" stroke-width="2" fill="none"/>
<path d="M878.9 426h2.1v61.5h-2.1zM907.2 352h1.7v33h-1.7zM902 482h1.6v19.5h-1.6z" fill="#ffffff"/>
<path d="M154.6 480.1L164.5 478L177 476.6L218.4 476.6L232.9 478L249.5 482.2L266.1 487.3L282.6 491.9L300 494.8L309.6 496.5L337.3 499.4L360.1 500.6L383.9 500.8L385.4 352L1083 352" stroke="#D95319" stroke-width="2.1" fill="none"/>
</g>
</g>
<g fill="none">
<path d="M297.5 597.0V758.0 M748.5 597.0V758.0 M157.0 677.5H1079.0" stroke="#DFDFDF" stroke-width="3"/>
<path d="M161.5 597.0V758.0 M196.5 597.0V758.0 M227.5 597.0V758.0 M253.5 597.0V758.0 M276.5 597.0V758.0 M432.5 597.0V758.0 M512.5 597.0V758.0 M568.5 597.0V758.0 M612.5 597.0V758.0 M647.4 597.0V758.0 M678.5 597.0V758.0 M704.5 597.0V758.0 M727.5 597.0V758.0 M883.5 597.0V758.0 M963.5 597.0V758.0 M1019.5 597.0V758.0 M1063.5 597.0V758.0" stroke="#262626" stroke-opacity="0.3" stroke-width="3" stroke-dasharray="1.8 2.2" stroke-dashoffset="1.80"/>
</g>
<g fill="none" stroke="#262626" stroke-width="3">
<rect x="155.5" y="595.5" width="925.0" height="164.0"/>
<path d="M161.5 759.5v-5.2M161.5 595.5v5.2 M196.5 759.5v-5.2M196.5 595.5v5.2 M227.5 759.5v-5.2M227.5 595.5v5.2 M253.5 759.5v-5.2M253.5 595.5v5.2 M276.5 759.5v-5.2M276.5 595.5v5.2 M432.5 759.5v-5.2M432.5 595.5v5.2 M512.5 759.5v-5.2M512.5 595.5v5.2 M568.5 759.5v-5.2M568.5 595.5v5.2 M612.5 759.5v-5.2M612.5 595.5v5.2 M647.4 759.5v-5.2M647.4 595.5v5.2 M678.5 759.5v-5.2M678.5 595.5v5.2 M704.5 759.5v-5.2M704.5 595.5v5.2 M727.5 759.5v-5.2M727.5 595.5v5.2 M883.5 759.5v-5.2M883.5 595.5v5.2 M963.5 759.5v-5.2M963.5 595.5v5.2 M1019.5 759.5v-5.2M1019.5 595.5v5.2 M1063.5 759.5v-5.2M1063.5 595.5v5.2 M297.5 759.5v-10M297.5 595.5v10 M748.5 759.5v-10M748.5 595.5v10 M155.5 677.5h10M1080.5 677.5h-10"/>
</g>
<g clip-path="url(#cp2)" fill="none" stroke-linejoin="round" stroke-linecap="butt">
<path d="M154.6 679.2L158.3 655.4L162.8 620.6L167.6 647.1L171.8 680.3L175.9 709.3L180.1 733.1L185.2 726.3L191 723.8L192.5 690.6L193.9 649.2L196 616L200.8 606.1L205.5 618.1L207 655.4L208.7 696.8L210.1 736.6L212.2 721.7L214.7 712L216.7 732.1L219 752.8L222.5 738.3L227.7 737.7L231.9 749.7L233.9 719.6L236.6 684.4L239.1 703.1L242.2 723.8L244.9 736.6L246.4 707.2L247.8 678.2L251.6 669.9L255.3 652.3L259.8 652.3L263 649.2L267.1 635.1L270.2 647.1L273.7 648.6L276.8 628.5L280.2 631.6L283.1 644L287.8 635.7L290.3 622.2L291.6 659.5L293 700.6L295.5 688.6L297.2 649.2L298.8 611.9L300.2 607L301.5 604.5L304 603L308.3 601.5L318.7 599.4L327 597.6L335 597.1L341.5 597L345.6 596.1L346.6 596L348.5 596L350.4 595.9L352.2 596L354.1 596L355.9 595.9L357.7 595.9L359.5 596L361.3 596.1L363 595.8L364.8 595.9L366.5 595.9L368.2 595.9L369.9 595.8L371.6 595.9L373.3 595.9L374.9 595.8L376.5 595.9L378.2 595.9L379.8 595.7L381.4 595.7L383 595.8L384.5 596.1L386.1 595.7L387.7 595.8L389.2 595.8L390.7 595.8L392.2 595.7L393.7 595.8L395.2 601.6L396.7 612.9L398.2 607L399.6 595.8L401.1 595.8L402.5 595.8L403.9 595.8L405.3 595.8L406.7 595.8L408.1 595.8L409.5 595.7L410.9 595.8L412.3 595.6L413.6 595.6L415 595.6L416.3 595.8L417.6 595.7L418.9 595.7L420.3 595.8L421.6 595.7L422.8 595.9L424.1 595.7L425.4 595.7L426.7 595.7L427.9 595.7L429.2 595.7L430.4 595.7L431.7 595.6L432.9 595.6L434.1 595.7L435.3 595.7L436.5 595.6L437.7 595.7L438.9 595.6L440.1 595.7L441.3 595.7L442.5 595.6L443.6 595.6L444.8 595.7L445.9 595.8L447.1 595.7L448.2 595.8L449.3 595.7L450.4 595.6L451.6 595.6L452.7 595.7L453.8 595.7L454.9 595.6L456 595.6L457 595.6L458.1 595.7L459.2 595.7L460.3 595.6L461.3 595.6L462.4 595.8L463.4 595.6L464.5 595.6L465.5 595.6L466.6 595.7L467.6 595.6L468.6 595.6L469.6 595.6L470.6 595.6L471.6 595.6L472.6 595.6L473.6 595.6L474.6 595.6L475.6 595.6L476.6 595.6L477.6 595.6L478.5 595.7L479.5 595.6L480.5 595.7L481.4 595.6L482.4 595.6L483.3 595.7L484.3 595.7L485.2 595.6L486.2 595.6L487.1 595.6L488 595.6L488.9 595.7L489.9 595.6L490.8 595.6L491.7 595.6L492.6 595.8L493.5 595.8L494.4 595.6L495.3 595.6L496.2 595.7L497 595.6L497.9 595.7L498.8 595.7L499.7 595.6L500.5 595.6L501.4 595.6L502.3 595.6L503.1 595.6L504 595.6L504.8 595.6L505.7 595.6L506.5 595.8L507.4 595.6L508.2 595.6L509 595.7L509.8 595.6L510.7 595.9L511.5 595.6L512.3 595.6L513.1 595.6L513.9 595.6L514.7 595.7L515.5 595.6L516.4 595.6L517.1 595.6L517.9 595.6L518.7 595.6L519.5 595.6L520.3 595.5L521.1 595.7L521.9 595.7L522.6 595.7L523.4 595.6L524.2 595.6L525 595.6L525.7 595.7L526.5 595.6L527.2 595.6L528 595.6L528.7 595.8L529.5 595.6L530.2 595.7L531 595.7L531.7 595.6L532.5 595.7L533.2 595.6L533.9 595.6L534.7 595.7L535.4 595.6L536.1 595.6L536.8 595.7L537.5 595.6L538.3 595.6L539 595.6L539.7 595.6L540.4 595.7L541.1 595.6L541.8 595.7L542.5 595.6L543.2 595.6L543.9 595.6L544.6 605.3L545.3 618.4L546 603.2L546.7 595.6L547.3 595.7L548 595.6L548.7 603.5L549.4 598.9L550.1 595.7L550.7 595.6L551.4 595.6L552.1 595.6L552.7 595.8L553.4 595.6L554 595.7L554.7 595.7L555.4 595.7L556 602.8L556.7 617.6L557.3 595.6L558 595.6L558.6 595.6L559.3 595.7L559.9 595.6L560.5 599.6L561.2 610.9L561.8 597.5L562.4 595.6L563.1 595.6L563.7 595.6L564.3 595.6L565 595.7L565.6 595.6L566.2 595.7L566.8 595.6L567.4 595.6L568 595.8L568.7 595.6L569.3 595.6L569.9 595.6L570.5 595.6L571.1 595.6L571.7 595.6L572.3 595.7L572.9 595.7L573.5 595.7L574.1 595.8L574.7 595.6L575.3 595.8L575.9 595.6L576.5 595.6L577 595.8L577.6 595.7L578.2 595.7L578.8 595.7L579.4 595.6L580 595.6L580.5 595.7L581.1 595.6L581.7 595.6L582.3 595.7L582.8 595.6L583.4 595.6L584 595.6L584.5 595.8L585.1 595.7L585.7 595.7L586.2 595.6L586.8 595.7L587.3 595.6L587.9 595.6L588.4 595.7L589 595.6L589.5 595.8L590.1 595.6L590.6 595.6L591.2 595.6L591.7 595.7L592.3 595.6L592.8 595.7L593.4 595.6L593.9 595.7L594.4 595.7L595 595.6L595.5 595.6L596 595.6L596.6 595.7L597.1 595.7L597.6 595.7L598.2 595.8L598.7 595.7L599.2 595.6L599.7 595.6L600.2 595.7L600.8 595.6L601.3 595.6L601.8 595.6L602.3 595.7L602.8 595.6L603.3 595.8L603.9 595.7L604.4 595.6L604.9 595.7L605.4 595.6L605.9 595.6L606.4 595.7L606.9 595.6L607.4 595.7L607.9 595.7L608.4 595.7L608.9 595.7L609.4 595.8L609.9 595.7L610.4 595.8L610.9 595.6L611.4 595.7L611.9 595.7L612.4 595.6L612.9 595.7L613.3 595.6L613.8 595.7L614.3 595.6L614.8 595.7L615.3 595.7L615.8 595.7L616.2 595.7L616.7 595.6L617.2 595.7L617.7 595.7L618.2 595.7L618.6 595.7L619.1 595.7L619.6 595.7L620 595.7L620.5 595.7L621 595.8L621.5 595.6L621.9 595.7L622.4 595.7L622.9 595.7L623.3 595.6L623.8 595.7L624.2 595.6L624.7 595.8L625.2 595.8L625.6 595.8L626.1 595.7L626.5 595.8L627 595.6L627.4 595.7L627.9 595.7L628.3 595.7L628.8 595.7L629.2 595.7L629.7 595.8L630.1 595.7L630.6 595.8L631 596L631.5 595.8L631.9 595.8L632.4 595.6L632.8 595.7L633.2 595.8L633.7 595.8L634.1 595.7L634.6 595.8L635 595.6L635.4 595.7L635.9 595.7L636.3 595.7L636.7 595.7L637.2 595.7L637.6 595.7L638 595.7L638.5 595.7L638.9 595.7L639.3 612.6L639.7 658.1L640.2 650.3L640.6 600.3L641 595.9L641.4 595.6L641.9 595.8L642.3 595.8L642.7 595.7L643.1 595.8L643.5 595.7L644 595.7L644.4 595.7L644.8 595.8L645.2 595.7L645.6 595.7L646 595.8L646.4 595.8L646.8 595.7L647.3 595.8L647.7 595.9L648.1 595.8L648.5 595.7L648.9 595.7L649.3 595.8L649.7 595.8L650.1 595.7L650.5 595.8L650.9 595.7L651.3 595.7L651.7 595.9L652.1 595.8L652.5 595.8L652.9 595.8L653.3 595.7L653.7 595.8L654.1 595.7L654.5 595.7L654.9 595.8L655.3 595.8L655.7 595.8L656.1 595.8L656.5 595.9L656.9 595.8L657.2 595.7L657.6 595.8L658 595.9L658.4 595.7L658.8 595.7L659.2 595.8L659.6 595.9L660 595.8L660.3 595.8L660.7 595.8L661.1 595.8L661.5 595.8L661.9 595.8L662.2 595.8L662.6 595.9L663 595.9L663.4 596L663.8 595.7L664.1 595.8L664.5 595.7L664.9 595.8L665.3 595.8L665.6 595.8L666 595.9L666.4 595.7L666.7 595.7L667.1 595.8L667.5 595.8L667.9 595.8L668.2 595.9L668.6 595.7L669 596L669.3 596.1L669.7 595.8L670.1 602.1L670.4 665.6L670.8 689.9L671.1 623.9L671.5 595.7L671.9 595.8L672.2 595.8L672.6 595.7L673 595.9L673.3 595.9L673.7 595.7L674 595.9L674.4 595.8L674.7 595.9L675.1 595.8L675.5 595.8L675.8 595.9L676.2 595.8L676.5 597.5L676.9 635.3L677.2 670.4L677.6 638.8L677.9 595.8L678.3 595.8L678.6 595.8L679 595.9L679.3 595.8L679.7 595.9L680 595.7L680.4 595.9L680.7 595.9L681 595.9L681.4 595.8L681.7 595.8L682.1 595.8L682.4 623.4L682.8 712L683.1 658.4L683.4 615L683.8 595.8L684.1 595.9L684.5 595.9L684.8 595.8L685.1 595.8L685.5 595.9L685.8 595.8L686.2 596L686.5 595.9L686.8 595.8L687.2 595.7L687.5 595.9L687.8 595.9L688.2 596L688.5 595.8L688.8 595.9L689.2 618.4L689.5 635.8L689.8 698.1L690.1 754L690.5 687.6L690.8 634L691.1 609.6L691.5 596.5L691.8 596.1L692.1 595.8L692.4 596.1L692.8 595.8L693.1 595.8L693.4 595.9L693.7 595.9L694.1 595.9L694.4 595.9L694.7 596L695 596L695.3 596.1L695.7 595.8L696 595.9L696.3 595.9L696.6 596L696.9 595.9L697.3 595.8L697.6 596L697.9 595.8L698.2 631.1L698.5 708.2L698.8 742.8L699.2 640.9L699.5 595.8L699.8 595.8L700.1 596L700.4 596L700.7 595.8L701 596.1L701.3 596L701.6 595.9L702 595.9L702.3 596L702.6 596.1L702.9 595.8L703.2 596L703.5 595.9L703.8 596L704.1 596.1L704.4 596L704.7 595.8L705 596.1L705.3 596L705.6 596.1L705.9 595.9L706.3 596L706.6 596L706.9 596L707.2 595.9L707.5 595.9L707.8 595.8L708.1 596.2L708.4 595.9L708.7 596L709 596.1L709.3 596L709.6 596L709.9 596.1L710.2 596L710.5 595.8L710.7 595.9L711 596L711.3 595.6L711.6 595.8L711.9 596L712.2 595.9L712.5 596.3L712.8 596L713.1 595.9L713.4 596L713.7 596L714 596.3L714.3 596L714.6 596.2L714.9 596.2L715.1 596L715.4 596L715.7 595.9L716 595.9L716.3 596L716.6 595.9L716.9 596L717.2 596L717.4 596L717.7 596L718 596L718.3 596L718.6 596.1L718.9 595.9L719.2 596L719.4 595.9L719.7 596.1L720 596.2L720.3 595.8L720.6 595.9L720.9 596L721.1 596.3L721.4 596.1L721.7 596L722 596L722.3 596L722.5 595.9L722.8 596.2L723.1 595.8L723.4 596.1L723.6 596.1L723.9 596L724.2 595.9L724.5 596.1L724.8 596.1L725 596.2L725.3 596.1L725.6 596L725.9 596L726.1 596.1L726.4 596L726.7 596.1L726.9 595.8L727.2 596.2L727.5 596.1L727.8 595.9L728 596.3L728.3 596L728.6 595.9L728.8 596L729.1 595.8L729.4 596.2L729.7 596L729.9 596L730.2 596.2L730.5 596.1L730.7 595.9L731 596.1L731.3 596.2L731.5 595.8L731.8 596.1L732.1 596.2L732.3 595.8L732.6 596.3L732.9 596.2L733.1 595.9L733.4 596.1L733.7 595.6L733.9 595.8L734.2 596.1L734.4 596L734.7 596.1L735 596L735.2 595.9L735.5 596.2L735.8 596.1L736 595.8L736.3 596L736.5 595.9L736.8 596.1L737 596.1L737.3 596.1L737.6 596.1L737.8 596L738.1 596.3L738.3 596.2L738.6 595.9L738.9 596.3L739.1 596.2L739.4 596.2L739.6 596L739.9 596.2L740.1 596.1L740.4 596.1L740.6 596.2L740.9 595.9L741.2 596L741.4 596.3L741.7 596L741.9 596.1L742.2 596.2L742.4 596L742.7 596.4L742.9 596.2L743.2 596.2L743.4 596.1L743.7 596.5L743.9 596L744.2 596.3L744.4 596.1L744.7 596.2L744.9 596.3L745.2 596.3L745.4 596.5L745.7 596.2L745.9 596.2L746.2 596L746.4 595.9L746.7 596.1L746.9 595.9L747.1 596.3L747.4 596.2L747.6 596.1L747.9 600.2L748.1 606.5L748.4 619.3L748.6 624.2L748.9 613.4L749.1 597.3L749.4 596.3L749.6 596.3L749.8 596L750.1 596.3L750.3 596L750.6 596.7L750.8 596L751 597.3L751.3 596.7L751.5 596.8L751.8 596.3L752 596.5L752.2 596.3L752.5 596.7L752.7 596.7L753 596.4L753.2 596.4L753.4 596.3L753.7 596.6L753.9 596.2L754.2 596.5L754.4 597L754.6 596.4L754.9 596.4L755.1 596.6L755.3 597L755.6 597.4L755.8 596.7L756 596.9L756.3 597.3L756.5 596.7L756.8 596.7L757 596.7L757.2 596.9L757.5 597L757.7 597.4L757.9 597.4L758.2 597.5L758.4 596.7L758.6 596.8L758.8 596.9L759.1 596.9L759.3 596.8L759.5 595.8L759.8 597.1L760 597.1L760.2 597.1L760.5 596.9L760.7 597.2L760.9 596.8L761.2 597.2L761.4 596.7L761.6 597.4L761.8 597L762.1 649.7L762.3 714.7L762.5 730.3L762.8 639.2L763 626.2L763.2 598.1L763.4 597.5L763.7 597.5L763.9 597.6L764.1 597.3L764.3 597.3L764.6 597.6L764.8 598.6L765 597.5L765.2 598.9L765.5 597.2L765.7 596.6L765.9 597.6L766.1 598L766.4 598.8L766.6 599.1L766.8 597.3L767 600.7L767.2 598.6L767.5 598.1L767.7 597.7L767.9 598.5L768.1 596.3L768.3 598.7L768.6 598L768.8 598L769 597.8L769.2 597.7L769.5 598L769.7 598.1L769.9 598.5L770.1 598.2L770.3 597.2L770.5 598.2L770.8 598.8L771 598.1L771.2 598.1L771.4 597.1L771.6 598.2L771.9 597.2L772.1 598.2L772.3 599.1L772.5 597.7L772.7 598.5L772.9 597.4L773.1 598.2L773.4 597.8L773.6 598.5L773.8 599.6L774 599.6L774.2 599.6L774.4 599.2L774.7 598.2L774.9 599.4L775.1 599.7L775.3 598L775.5 599.6L775.7 599L775.9 598.7L776.1 599.1L776.4 598.6L776.6 600.9L776.8 598.6L777 597.2L777.2 600.8L777.4 600.9L777.6 598.1L777.8 599.7L778 598.7L778.3 600.3L778.5 599.5L778.7 600.1L778.9 599.8L779.1 601.2L779.3 600.8L779.5 600.6L779.7 600.8L779.9 599.1L780.1 600.7L780.3 600.2L780.5 598.8L780.8 600.6L781 600.1L781.2 600.8L781.4 599.8L781.6 601.2L781.8 601.5L782 599.6L782.2 601.8L782.4 602L782.6 601.1L782.8 599.5L783 600.3L783.2 601.8L783.4 601.4L783.6 598.9L783.8 599L784 596.6L784.2 602.9L784.5 598L784.7 602.3L784.9 604.2L785.1 600.9L785.3 600.6L785.5 601.6L785.7 602.2L785.9 602.9L786.1 601.2L786.3 601.7L786.5 602.4L786.7 602.5L786.9 601.7L787.1 601.1L787.3 604L787.5 602.1L787.7 600.4L787.9 602.2L788.1 601.1L788.3 604.7L788.5 603.2L788.7 599.9L788.9 601.3L789.1 607.9L789.3 605.1L789.5 603.7L789.7 602.5L789.9 601.9L790.1 603.1L790.3 602.7L790.5 602.2L790.7 604.3L790.9 604L791.1 602.1L791.2 603.1L791.4 604L791.6 603.8L791.8 603.9L792 603.2L792.2 603.5L792.4 602.2L792.6 606.1L792.8 605.6L793 603.9L793.2 604.5L793.4 605.5L793.6 602L793.8 604.8L794 605L794.2 603.8L794.4 602.3L794.6 604.9L794.8 604.6L794.9 605.9L795.1 607L795.3 606.7L795.5 603.5L795.7 608.3L795.9 608.6L796.1 600.5L796.3 599.5L796.5 603.4L796.7 607.5L796.9 604.1L797.1 606.5L797.2 608.3L797.4 607.6L797.6 605L797.8 610L798 602.5L798.2 605L798.4 608.1L798.6 610.9L798.8 607L799 608.6L799.1 606.8L799.3 607.2L799.5 605.7L799.7 605.7L799.9 605L800.1 605.8L800.3 607.3L800.5 602.9L800.6 603.1L800.8 603.5L801 601.9L801.2 608.3L801.4 608.7L801.6 606.7L801.8 604.2L802 605.7L802.1 604.6L802.3 611.4L802.5 611L802.7 606.9L802.9 609.6L803.1 607L803.2 610.8L803.4 607.8L803.6 606.1L803.8 613.6L804 607.5L804.2 608.6L804.4 607.7L804.5 606.6L804.7 609.5L804.9 606.8L805.1 612.1L805.3 610.9L805.5 611.4L805.6 615.1L805.8 607L806 611.5L806.2 611.2L806.4 613.9L806.5 611.6L806.7 611.2L806.9 613.4L807.1 609.3L807.3 617.5L807.5 614.4L807.6 611.9L807.8 611.1L808 612.9L808.2 612.3L808.4 615L808.5 612.2L808.7 610.5L808.9 617.3L809.1 614.2L809.3 614.6L809.4 615.4L809.6 607.7L809.8 611.7L810 618.7L810.1 606.2L810.3 616.8L810.5 619.3L810.7 654.3L810.9 705.1L811 742.1L811.2 705.9L811.4 665.8L811.6 635.3L811.7 614.6L811.9 616.1L812.1 611L812.3 613.9L812.5 617.7L812.6 623.6L812.8 622.8L813 630.8L813.2 620.9L813.3 619L813.5 624.8L813.7 621.3L813.9 613L814 619.6L814.2 624.7L814.4 617.9L814.6 623.2L814.7 621.1L814.9 619.2L815.1 619.9L815.3 616.9L815.4 617.4L815.6 633.5L815.8 631.8L815.9 631.9L816.1 599.9L816.3 623.2L816.5 617.9L816.6 612.7L816.8 622.9L817 624.5L817.2 628.9L817.3 626L817.5 633.8L817.7 621.1L817.8 618.6L818 621.5L818.2 629.7L818.4 617.1L818.5 633.7L818.7 624.3L818.9 615.1L819 634.3L819.2 636.8L819.4 620.2L819.6 626.9L819.7 629.1L819.9 620.9L820.1 622.6L820.2 636.5L820.4 622.5L820.6 637.7L820.7 627.5L820.9 643.6L821.1 617L821.2 628.2L821.4 614.7L821.6 625.3L821.7 619.4L821.9 615.9L822.1 604.7L822.3 625.7L822.4 630.5L822.6 622.3L822.8 633.4L822.9 664.7L823.1 641L823.3 633.9L823.4 643.1L823.6 650.4L823.8 679.3L823.9 678.8L824.1 676.1L824.3 674.3L824.4 670.3L824.6 643L824.8 639.3L824.9 639.4L825.1 644L825.2 647.7L825.4 638.6L825.6 636.8L825.7 642.1L825.9 627.4L826.1 639.2L826.2 635.2L826.4 636L826.6 641.9L826.7 637.1L826.9 634.9L827.1 634.3L827.2 637L827.4 642.5L827.5 641.3L827.7 631.9L827.9 612.9L828 595.7L828.2 603.9L828.4 616.9L828.5 629.2L828.7 642.4L828.8 651.2L829 638.8L829.2 635.4L829.3 636.4L829.5 633.7L829.7 645L829.8 646L830 634.5L830.1 642.3L830.3 626.4L830.5 633L830.6 630.6L830.8 647.3L830.9 639L831.1 638.7L831.3 630.9L831.4 637.6L831.6 638L831.7 645.6L831.9 634.1L832.1 642.5L832.2 630.9L832.4 630.3L832.5 634.4L832.7 627.6L832.9 633.8L833 631.4L833.2 633.2L833.3 635.7L833.5 654.7L833.7 645.3L833.8 648.7L834 635.2L834.1 647.2L834.3 636.8L834.4 637.6L834.6 635.2L834.8 642.3L834.9 644.8L835.1 646.5L835.2 635.4L835.4 624.2L835.5 646L835.7 635.7L835.9 640.8L836 646.2L836.2 646.9L836.3 652.5L836.5 642.3L836.6 654.5L836.8 648.9L836.9 645.1L837.1 660.3L837.3 697.1L837.4 721.9L837.6 732.1L837.7 693.9L837.9 678.6L838 655L838.2 654.2L838.3 656.1L838.5 644.3L838.7 644.8L838.8 668.2L839 664.3L839.1 651.1L839.3 651.2L839.4 654.3L839.6 641.8L839.7 647.7L839.9 652.9L840 653.6L840.2 636L840.3 655L840.5 654.7L840.6 649.1L840.8 645.5L841 659.4L841.1 630.2L841.3 674.8L841.4 678.2L841.6 667L841.7 647.5L841.9 649L842 626.1L842.2 659.2L842.3 655.3L842.5 667.4L842.6 673.4L842.8 610.9L842.9 665.9L843.1 671.5L843.2 677.3L843.4 653.4L843.5 648.6L843.7 648.4L843.8 647.1L844 662.3L844.1 656.8L844.3 691.9L844.4 644.1L844.6 659.4L844.7 662.6L844.9 652.2L845 659L845.2 657.7L845.3 668.8L845.5 652.1L845.6 674.7L845.8 658.9L845.9 645.2L846.1 665.8L846.2 673.7L846.4 660.8L846.5 652.2L846.7 670.4L846.8 679.9L847 667.8L847.1 652.2L847.3 683L847.4 617.2L847.5 694.4L847.7 667.3L847.8 661.4L848 665.8L848.1 674.4L848.3 694.1L848.4 607.8L848.6 650.3L848.7 622L848.9 692.4L849 655.3L849.2 669.1L849.3 672.6L849.5 659.9L849.6 670.8L849.7 666.3L849.9 667.4L850 658L850.2 659.8L850.3 665.9L850.5 659.3L850.6 672.1L850.8 670.9L850.9 675.9L851.1 641.5L851.2 674.5L851.3 650.9L851.5 671.7L851.6 662.2L851.8 663.2L851.9 665L852.1 670L852.2 663.8L852.4 653.7L852.5 645.5L852.6 672.2L852.8 636.5L852.9 660.3L853.1 676.8L853.2 663.3L853.4 660.8L853.5 665.3L853.6 667.8L853.8 656.1L853.9 625.7L854.1 682.9L854.2 662.4L854.4 667.2L854.5 668.7L854.6 666.6L854.8 663.8L854.9 667.7L855.1 655.9L855.2 651.2L855.3 681L855.5 659.5L855.6 658L855.8 667.5L855.9 667.8L856.1 663.4L856.2 660.8L856.3 668.7L856.5 677.7L856.6 651.9L856.8 673.5L856.9 660.2L857 649.9L857.2 674.2L857.3 680.9L857.5 681.4L857.6 682.4L857.7 660.8L857.9 675.6L858 670.6L858.2 670.7L858.3 681.2L858.4 667.8L858.6 677.6L858.7 668.5L858.9 666.5L859 669.2L859.1 661.2L859.3 670.8L859.4 676.1L859.6 670.5L859.7 665.7L859.8 664.2L860 672.5L860.1 670.8L860.2 673.1L860.4 667.8L860.5 674.1L860.7 666.6L860.8 674.6L860.9 747.9L861.1 674.6L861.2 662.5L861.3 665.1L861.5 659.3L861.6 680.8L861.8 685.8L861.9 659.4L862 670.2L862.2 691.2L862.3 687L862.4 677.4L862.6 672.4L862.7 675.3L862.8 668.9L863 652.3L863.1 691.7L863.3 666.8L863.4 683.6L863.5 681.7L863.7 672.4L863.8 720.3L863.9 694.2L864.1 666.2L864.2 663.7L864.3 679.2L864.5 707.3L864.6 674.8L864.7 692L864.9 672.7L865 683.1L865.2 684.7L865.3 686.1L865.4 697.3L865.6 671.8L865.7 701L865.8 647.8L866 747L866.1 696.3L866.2 691.6L866.4 696.4L866.5 672.9L866.6 678L866.8 658.7L866.9 690.1L867 676.8L867.2 682.8L867.3 702.7L867.4 668.2L867.6 704.1L867.7 680.1L867.8 681.9L868 683.1L868.1 688.6L868.2 704.8L868.4 707.8L868.5 690.4L868.6 702.9L868.8 670.6L868.9 680.6L869 667.9L869.2 690.7L869.3 683L869.4 675.1L869.5 691.1L869.7 681.7L869.8 675.7L869.9 672.3L870.1 717.5L870.2 666.8L870.3 698.1L870.5 698.9L870.6 710.3L870.7 691.6L870.9 651.6L871 692.5L871.1 678.7L871.3 691.5L871.4 657.3L871.5 674.8L871.6 675.1L871.8 704L871.9 681.2L872 668.7L872.2 676.4L872.3 681.5L872.4 674.5L872.6 692.9L872.7 701.6L872.8 699.6L872.9 713.8L873.1 660.1L873.2 704.6L873.3 658.3L873.5 659.8L873.6 691.4L873.7 689.9L873.8 691.6L874 688.4L874.1 694L874.2 684.9L874.4 705.3L874.5 702.3L874.6 708.3L874.7 709.7L874.9 702L875 697.8L875.1 717.5L875.3 684.5L875.4 713.7L875.5 710.3L875.6 706.8L875.8 731.1L875.9 655.3L876 709.1L876.2 741L876.3 711.3L876.4 710.8L876.5 704.4L876.7 701.7L876.8 721.9L876.9 672.1L877 747.3L877.2 707.4L877.3 694.5L877.4 711.7L877.5 709.7L877.7 724.7L877.8 721.8L877.9 714.7L878.1 723.3L878.2 737.9L878.3 710.5L878.4 711.5L878.6 714.8L878.7 747.4L878.8 743.1L878.9 737.2L879.1 726.4L879.2 728.2L879.3 740.3L879.4 725.9L879.6 704.5L879.7 723.1L879.8 738.5L879.9 737.9L880.1 728.6L880.2 726.8L880.3 734.1L880.4 754L880.6 727.7L880.7 727.6L880.8 714.5L880.9 741.8L881.1 713.7L881.2 752.1L881.3 725.1L881.4 743.4L881.6 746.4L881.7 742.7L881.8 710.9L881.9 736.9L882 752.7L882.2 732.2L882.3 732.2L882.4 751.8L882.5 710.9L882.7 730L882.8 721.7L882.9 749.2L883 703.3L883.2 724.2L883.3 737L883.4 744.7L883.5 664.5L883.6 677.7L883.8 690.3L883.9 653.1L884 614.6L884.1 595.7L884.3 641.3L884.4 657.9L884.5 684.7L884.6 692.7L884.7 728.5L884.9 716.6L885 712L885.1 686.4L885.2 735.1L885.4 709.2L885.5 670.8L885.6 730.4L885.7 702.7L885.8 685.4L886 752.7L886.1 737.3L886.2 733L886.3 690.7L886.4 710.2L886.6 722.5L886.7 744.6L886.8 681.8L886.9 706.3L887.1 710.8L887.2 716.5L887.3 714.1L887.4 714.8L887.5 731.1L887.7 698.6L887.8 696.5L887.9 689.7L888 713.3L888.1 717L888.3 719.3L888.4 696.5L888.5 702.1L888.6 701.4L888.7 717.7L888.9 707.8L889 712.4L889.1 711.1L889.2 712.5L889.3 706.7L889.4 690.7L889.6 687.8L889.7 730.4L889.8 695L889.9 751.2L890 744.4L890.2 690.1L890.3 729.9L890.4 715.8L890.5 714.4L890.6 721.1L890.8 690L890.9 701.8L891 693.3L891.1 729.5L891.2 705.3L891.3 736.5L891.5 720.9L891.6 723.6L891.7 705.4L891.8 719.3L891.9 727L892 717L892.2 704.8L892.3 709L892.4 748.8L892.5 755.3L892.6 715.3L892.8 735.7L892.9 748.8L893 708.8L893.1 707.1L893.2 712.9L893.3 713.6L893.5 720.8L893.6 721.6L893.7 732L893.8 718.1L893.9 756.1L894 744.2L894.1 730L894.3 756.5L894.4 709.6L894.5 722.1L894.6 740.4L894.7 717.5L894.8 714.6L895 728.1L895.1 734.2L895.2 740.5L895.3 747L895.4 721.2L895.5 727.3L895.7 738.2L895.8 737.6L895.9 742.7L896 731.5L896.1 722.1L896.2 730.6L896.3 736.7L896.5 722.4L896.6 720.3L896.7 744.7L896.8 739.6L896.9 741.4L897 732.3L897.1 737.8L897.3 749.6L897.4 748.1L897.5 748L897.6 758.3L897.7 732.7L897.8 744.3L897.9 740.4L898.1 735.4L898.2 747.2L898.3 739.4L898.4 734.9L898.5 737.6L898.6 741.9L898.7 741.4L898.9 741.5L899 735.4L899.1 747.9L899.2 742.7L899.3 747.8L899.4 750.2L899.5 693.8L899.6 709.6L899.8 739.4L899.9 742.4L900 730.6L900.1 752.7L900.2 734.7L900.3 749L900.4 742.6L900.5 748.7L900.7 747.2L900.8 749.5L900.9 742.3L901 757.4L901.1 755L901.2 745.9L901.3 742.8L901.4 757.4L901.6 740.7L901.7 756.4L901.8 753.3L901.9 748.1L902 752.6L902.1 757.8L902.2 753.9L902.3 734.8L902.5 756.4L902.6 753.7L902.7 751L902.8 755.3L902.9 752.9L903 753.9L903.1 749.6L903.2 758.3L903.3 737.1L903.5 756.3L903.6 756.9L903.7 742L903.8 747.9L903.9 748.5L904 740.8L904.1 754.6L904.2 751.2L904.3 744L904.4 751.6L904.6 745.8L904.7 746.2L904.8 758L904.9 745.3L905 749.6L905.1 753.5L905.2 741.4L905.3 757.1L905.4 756.6L905.5 754.8L905.7 753L905.8 746L905.9 744.8L906 753.4L906.1 757.3L906.2 748.4L906.3 749.1L906.4 753.4L906.5 759.1L906.6 756.3L906.7 753.3L906.9 748.1L907 753.1L907.1 755.6L907.2 744.7L907.3 757.5L907.4 756.7L907.5 756.6L907.6 743.4L907.7 747.3L907.8 755.8L907.9 738.6L908 738.6L908.2 744.8L908.3 737.6L908.4 753.1L908.5 742.6L908.6 746.2L908.7 736.6L908.8 692.7L908.9 683.8L909 659.6L909.1 687.3L909.2 703.7L909.3 742.7L909.5 746.7L909.6 746.4L909.7 750.4L909.8 750.3L909.9 744.4L910 758.5L910.1 744.9L910.2 753.7L910.3 740L910.4 754.1L910.5 757.3L910.6 743.9L910.7 752.4L910.8 723.6L910.9 756.8L911.1 750.2L911.2 753.2L911.3 746L911.4 758.8L911.5 741.5L911.6 750.4L911.7 749.6L911.8 756.9L911.9 747.7L912 753.5L912.1 743L912.2 750.1L912.3 740.4L912.4 740.4L912.5 749.2L912.6 733.1L912.8 749L912.9 754.5L913 727.8L913.1 726.1L913.2 717.8L913.3 753.4L913.4 742.1L913.5 718.6L913.6 717.1L913.7 743.2L913.8 738.9L913.9 732.8L914 740.6L914.1 722.2L914.2 719.2L914.3 736.2L914.4 721.1L914.5 716.5L914.6 731.8L914.8 728.2L914.9 726.1L915 723.1L915.1 736.4L915.2 709.1L915.3 706.1L915.4 732.1L915.5 720.2L915.6 729.6L915.7 724.2L915.8 734.2L915.9 727.6L916 734.8L916.1 686.4L916.2 678.9L916.3 716.9L916.4 668.4L916.5 741L916.6 697.9L916.7 727.5L916.8 708L916.9 702.5L917 693.1L917.1 693.6L917.2 711.4L917.3 731.6L917.5 701.5L917.6 728.6L917.7 752.2L917.8 700.8L917.9 706.5L918 734.5L918.1 660.2L918.2 730.9L918.3 711.2L918.4 675.9L918.5 679.1L918.6 715.4L918.7 698.2L918.8 696.2L918.9 716L919 704.9L919.1 702.1L919.2 699.4L919.3 695.2L919.4 721.8L919.5 695.3L919.6 696.5L919.7 618.5L919.8 688.1L919.9 716.3L920 700.5L920.1 701.3L920.2 719.2L920.3 711.1L920.4 690.1L920.5 676.7L920.6 725.2L920.7 655.9L920.8 706.9L920.9 687.4L921 657.7L921.1 702.1L921.2 671.7L921.3 695.7L921.4 715.3L921.5 711L921.6 682.2L921.7 700.5L921.8 708.4L921.9 684.5L922 681.2L922.1 695.7L922.2 699.4L922.3 705L922.4 707.6L922.5 667.2L922.6 716.9L922.7 706.6L922.8 677.1L922.9 691.7L923 719.7L923.1 671.7L923.2 688.4L923.3 670.6L923.4 685.8L923.5 662.3L923.6 702.3L923.7 698.4L923.8 690.9L923.9 702.2L924 678.7L924.1 673.7L924.2 679.7L924.3 677.1L924.4 667.3L924.5 687.2L924.6 694.2L924.7 687.3L924.8 676.9L924.9 691.9L925 688.8L925.1 660.2L925.2 691.6L925.3 685.8L925.4 702.1L925.5 669L925.6 669.3L925.7 667.7L925.8 677.1L925.9 688.8L926 687.7L926.1 677.4L926.2 692.1L926.3 669.7L926.4 719.9L926.5 725L926.6 672L926.7 680L926.8 638.7L926.9 656.7L927 663L927.1 677.3L927.2 672.4L927.3 647.7L927.4 682.4L927.5 671.4L927.6 666.3L927.7 676.3L927.8 651.4L927.9 616.8L928 601L928.1 622.9L928.2 628.7L928.3 647.3L928.4 662.6L928.5 682.2L928.6 669.4L928.7 670L928.8 679.9L928.9 672.4L929 658.2L929.1 706.8L929.2 707.2L929.3 690.3L929.4 683.3L929.5 683.1L929.5 680.3L929.6 656.4L929.7 713.4L929.8 692.8L929.9 644.7L930 694.3L930.1 686.7L930.2 696.2L930.3 688.3L930.4 678L930.5 657.5L930.6 695.5L930.7 659.1L930.8 662.2L930.9 688.2L931 663.2L931.1 682.9L931.2 667.6L931.3 654.6L931.4 675.8L931.5 695L931.6 654.8L931.7 643.4L931.8 676L931.9 669L932 683.6L932.1 679.5L932.2 696.3L932.2 674L932.3 674.3L932.4 678.5L932.5 666.9L932.6 678.6L932.7 686.2L932.8 682.1L932.9 686.5L933 684.2L933.1 675.5L933.2 672L933.3 655.4L933.4 678.6L933.5 694.9L933.6 682.1L933.7 700.2L933.8 674.4L933.9 661.9L934 668.3L934.1 666.5L934.1 669.9L934.2 687.1L934.3 672.7L934.4 677L934.5 682L934.6 678.9L934.7 675.3L934.8 678.3L934.9 674.9L935 672.9L935.1 666.4L935.2 653.1L935.3 665.5L935.4 674.4L935.5 662.8L935.6 675.6L935.7 683.5L935.8 670.9L935.8 684.6L935.9 669.2L936 663.7L936.1 660L936.2 686.4L936.3 682.9L936.4 697.8L936.5 665.9L936.6 673.7L936.7 682.6L936.8 673.3L936.9 678.2L937 687L937.1 675L937.2 669.2L937.3 674.6L937.3 660.2L937.4 693.5L937.5 672.7L937.6 695L937.7 657.3L937.8 670.2L937.9 652.4L938 673L938.1 684.5L938.2 678.3L938.3 674.5L938.4 672.7L938.5 668.1L938.6 657.6L938.6 676.2L938.7 675.1L938.8 650.3L938.9 675.9L939 657.8L939.1 688.4L939.2 670.2L939.3 671.3L939.4 678L939.5 664.7L939.6 656.1L939.7 684.9L939.8 678.9L939.8 670.7L939.9 663.8L940 668.7L940.1 664.5L940.2 662.6L940.3 685.7L940.4 643.7L940.5 679.4L940.6 666.6L940.7 652.5L940.8 677.7L940.9 675.5L940.9 673.7L941 661.3L941.1 657.1L941.2 671.3L941.3 669L941.4 662.5L941.5 670.6L941.6 666L941.7 666.1L941.8 642.9L941.9 700.7L941.9 672.2L942 667.2L942.1 677L942.2 685.6L942.3 685.5L942.4 667.9L942.5 654.1L942.6 674.2L942.7 645.3L942.8 745.9L942.9 659.6L942.9 661L943 663.6L943.1 665.6L943.2 661.4L943.3 665.8L943.4 679.4L943.5 667.3L943.6 648.6L943.7 677.7L943.8 648.9L943.9 689.2L943.9 638.3L944 684.9L944.1 672.2L944.2 660.8L944.3 677.6L944.4 680.6L944.5 660.8L944.6 666.6L944.7 671.2L944.7 669L944.8 675.9L944.9 685.6L945 635L945.1 679.8L945.2 654.8L945.3 680.8L945.4 669.6L945.5 661.6L945.6 639.7L945.6 677.2L945.7 663.8L945.8 672L945.9 679.4L946 651.8L946.1 649.8L946.2 670.2L946.3 657L946.4 673L946.4 669.1L946.5 678L946.6 667.3L946.7 641.4L946.8 695.5L946.9 694.9L947 676L947.1 656.4L947.2 649.8L947.2 670.1L947.3 662.2L947.4 659.4L947.5 664.6L947.6 665.9L947.7 652.5L947.8 662L947.9 660.4L948 660.5L948 663.5L948.1 662.8L948.2 660.3L948.3 679L948.4 653.4L948.5 676.6L948.6 644.1L948.7 669.9L948.7 648.7L948.8 646.7L948.9 676.6L949 655.3L949.1 658.2L949.2 645.1L949.3 664.9L949.4 664.3L949.4 667.8L949.5 659.1L949.6 661.9L949.7 657.1L949.8 639.4L949.9 656.9L950 655L950.1 662.7L950.1 653.8L950.2 684L950.3 656.3L950.4 658.5L950.5 626.3L950.6 675.5L950.7 658.6L950.8 658.4L950.8 667.2L950.9 657.5L951 651L951.1 643.3L951.2 652.3L951.3 648.1L951.4 663.6L951.5 695.7L951.5 678L951.6 670.4L951.7 653.3L951.8 643.5L951.9 656.6L952 687.5L952.1 657.7L952.1 651.9L952.2 667.4L952.3 689.8L952.4 655.2L952.5 647.2L952.6 637.6L952.7 674L952.7 667L952.8 685.4L952.9 655.1L953 653.7L953.1 656L953.2 649.7L953.3 653.2L953.4 667.4L953.4 652.2L953.5 657.6L953.6 660.1L953.7 672.1L953.8 665.7L953.9 665.3L954 623.9L954 655.5L954.1 660L954.2 634.9L954.3 663.3L954.4 660.6L954.5 659L954.5 647.1L954.6 648.7L954.7 652.2L954.8 650.4L954.9 652.7L955 650.9L955.1 650.7L955.1 651.7L955.2 676.5L955.3 655.3L955.4 660.9L955.5 653.9L955.6 664.2L955.7 644.8L955.7 639.1L955.8 654.8L955.9 654.8L956 670.4L956.1 652.7L956.2 670.7L956.2 648L956.3 658.8L956.4 660.2L956.5 662.4L956.6 653.9L956.7 639.6L956.8 646.8L956.8 651.6L956.9 648.2L957 644.2L957.1 649.9L957.2 658.5L957.3 649.4L957.3 642.5L957.4 654.4L957.5 654.2L957.6 646.2L957.7 650.4L957.8 653.6L957.8 654.2L957.9 663.9L958 654.6L958.1 639.9L958.2 678.1L958.3 624.8L958.4 648.8L958.4 643.7L958.5 671.1L958.6 670.6L958.7 633.3L958.8 639.8L958.9 648.1L958.9 655.4L959 661L959.1 658.2L959.2 655.9L959.3 659.1L959.4 640.2L959.4 710.5L959.5 646L959.6 658.8L959.7 680.7L959.8 662.5L959.9 667.1L959.9 682.7L960 653L960.1 645.3L960.2 657.5L960.3 649.4L960.4 665.2L960.4 668.4L960.5 663.7L960.6 662.9L960.7 649.4L960.8 678.8L960.8 638.1L960.9 649.4L961 667.6L961.1 648.9L961.2 664.8L961.3 663.4L961.3 656.5L961.4 662.4L961.5 659.4L961.6 662.5L961.7 651.8L961.8 661.4L961.8 657.3L961.9 663.1L962 655.3L962.1 657.7L962.2 667.1L962.2 653.4L962.3 654.8L962.4 661.9L962.5 664.2L962.6 666.2L962.7 656L962.7 654.1L962.8 654.8L962.9 655.3L963 661.6L963.1 665L963.1 652.4L963.2 655.7L963.3 645.4L963.4 652.4L963.5 648.6L963.6 659.5L963.6 641.2L963.7 681.4L963.8 656.4L963.9 643.6L964 675.3L964 669.1L964.1 650.2L964.2 665.5L964.3 664.9L964.4 666.3L964.5 644.7L964.5 655.2L964.6 664.3L964.7 657.1L964.8 653.2L964.9 659.8L964.9 661.7L965 653.3L965.1 731.1L965.2 655.4L965.3 648.4L965.3 694.4L965.4 670.2L965.5 668.7L965.6 654L965.7 634.2L965.7 653.4L965.8 647L965.9 689.5L966 661L966.1 670.3L966.1 692L966.2 663.8L966.3 665L966.4 667.2L966.5 697.3L966.5 618.6L966.6 644.2L966.7 636.3L966.8 665L966.9 644.1L967 657.3L967 656L967.1 650.2L967.2 665L967.3 647.3L967.4 661.6L967.4 647.3L967.5 649.3L967.6 665.2L967.7 659.4L967.7 641.4L967.8 637.9L967.9 657.8L968 644.5L968.1 685.1L968.1 709.3L968.2 661.3L968.3 669.5L968.4 661.1L968.5 640.4L968.5 661.2L968.6 636.6L968.7 659.2L968.8 668.1L968.9 659.1L968.9 671.6L969 645.8L969.1 665.7L969.2 645.6L969.3 658.3L969.3 649.9L969.4 662.8L969.5 659.7L969.6 673.2L969.7 637L969.7 676.9L969.8 653.4L969.9 662.9L970 629.5L970 646.4L970.1 642.3L970.2 638.3L970.3 648.1L970.4 722.2L970.4 666.4L970.5 655.5L970.6 639.1L970.7 657.6L970.8 699.6L970.8 678.9L970.9 646.3L971 664.4L971.1 667.8L971.2 651.9L971.2 626.6L971.3 644.5L971.4 656.9L971.5 638.2L971.5 654.1L971.6 642.9L971.7 639.9L971.8 646.2L971.9 650L971.9 649.1L972 655.8L972.1 670.9L972.2 654.7L972.2 645.6L972.3 645.1L972.4 652.6L972.5 636.2L972.6 646.1L972.6 659.9L972.7 645.4L972.8 652.2L972.9 648.9L972.9 653.9L973 652.5L973.1 666L973.2 657.8L973.3 655.7L973.3 701.1L973.4 629.2L973.5 653.2L973.6 623.6L973.6 674L973.7 650L973.8 654.7L973.9 646.5L974 660.6L974 658.8L974.1 633.2L974.2 647.3L974.3 656L974.3 649.8L974.4 651.7L974.5 636.1L974.6 655.4L974.6 652.9L974.7 654.3L974.8 639.6L974.9 649.7L975 643.8L975 644.4L975.1 653.8L975.2 620.1L975.3 641.2L975.3 745L975.4 645.8L975.5 640.6L975.6 646.3L975.6 642.7L975.7 642L975.8 640.7L975.9 662.6L976 656.4L976 650.8L976.1 649.2L976.2 643.9L976.3 638.4L976.3 656.3L976.4 650L976.5 645L976.6 638.8L976.6 647L976.7 654.8L976.8 655L976.9 630.4L976.9 646.7L977 651L977.1 652.8L977.2 643.8L977.2 651.9L977.3 646.3L977.4 635.2L977.5 649.2L977.6 640.2L977.6 645.2L977.7 633.3L977.8 636.6L977.9 640.6L977.9 671.6L978 652L978.1 653.3L978.2 651.7L978.2 643.2L978.3 642.7L978.4 653.1L978.5 639.2L978.5 642.8L978.6 642.2L978.7 643.7L978.8 645.3L978.8 646L978.9 647.3L979 654.7L979.1 642.7L979.1 646.9L979.2 641.4L979.3 624.8L979.4 640.4L979.4 627.2L979.5 652.8L979.6 635.3L979.7 641.4L979.7 644L979.8 652.2L979.9 642.8L980 642.8L980 649.7L980.1 645.3L980.2 662.2L980.3 638.2L980.3 638.1L980.4 649.5L980.5 638.1L980.6 638.5L980.6 655.7L980.7 633.2L980.8 643.1L980.9 648.6L980.9 655.9L981 647.2L981.1 636.2L981.2 646.3L981.2 636.3L981.3 641.2L981.4 643.8L981.5 655.6L981.5 646.5L981.6 635.4L981.7 642.6L981.8 636.8L981.8 644.3L981.9 638.1L982 641.1L982.1 643.7L982.1 646.2L982.2 638.6L982.3 644.1L982.4 637.7L982.4 628.5L982.5 647.8L982.6 682.3L982.6 646.5L982.7 628.3L982.8 638.1L982.9 632.4L982.9 609.2L983 611L983.1 648.5L983.2 649.8L983.2 636.7L983.3 635.7L983.4 639.2L983.5 657.3L983.5 682.2L983.6 641.1L983.7 643.2L983.8 649.2L983.8 640.9L983.9 644.3L984 640L984 650.3L984.1 641L984.2 633.2L984.3 653.9L984.3 640.2L984.4 611.2L984.5 628.5L984.6 644.4L984.6 624.4L984.7 653.3L984.8 672.7L984.9 642L984.9 654.5L985 640.9L985.1 652.2L985.1 664.6L985.2 635.2L985.3 689.1L985.4 644.6L985.4 648.3L985.5 642.6L985.6 625.6L985.7 636.6L985.7 635.4L985.8 636.9L985.9 641.5L985.9 653.7L986 648.6L986.1 641.4L986.2 649.1L986.2 632L986.3 661.4L986.4 637.7L986.5 627.5L986.5 645.3L986.6 651.8L986.7 624.4L986.7 661L986.8 640.4L986.9 645.5L987 641.8L987 640.1L987.1 641.1L987.2 657.3L987.3 617.7L987.3 631.1L987.4 636.7L987.5 638.3L987.5 649.5L987.6 643.3L987.7 633.1L987.8 641L987.8 650.9L987.9 647.6L988 638.4L988 627.7L988.1 618.9L988.2 653.9L988.3 686.2L988.3 637.7L988.4 657L988.5 631.4L988.5 651L988.6 618.1L988.7 653.1L988.8 636.1L988.8 648.2L988.9 641.5L989 611.9L989 628.8L989.1 639.8L989.2 641.6L989.3 651.4L989.3 649.3L989.4 640L989.5 643L989.5 649.8L989.6 654.1L989.7 631.8L989.8 660.8L989.8 668.6L989.9 640.5L990 664.5L990 646.6L990.1 633.9L990.2 659.3L990.3 609.4L990.3 635.6L990.4 737.8L990.5 647.7L990.5 657.3L990.6 654.1L990.7 637.5L990.8 649L990.8 644.4L990.9 653.4L991 643.5L991 653.4L991.1 650.8L991.2 652.5L991.3 652.3L991.3 650.3L991.4 651L991.5 658.4L991.5 642.8L991.6 640.8L991.7 656.4L991.7 654.5L991.8 651.9L991.9 660.4L992 658L992 658.7L992.1 652.7L992.2 654.2L992.2 649.7L992.3 624.6L992.4 649L992.5 658.1L992.5 675.3L992.6 662.4L992.7 662.4L992.7 681.4L992.8 656L992.9 661.5L992.9 676.5L993 641.9L993.1 640.3L993.2 656.5L993.2 667.6L993.3 668.4L993.4 648.1L993.4 676.7L993.5 669.3L993.6 660.7L993.6 660.1L993.7 677L993.8 696.7L993.9 683L993.9 673.6L994 655.8L994.1 647.1L994.1 656.5L994.2 641.2L994.3 650.5L994.3 630.9L994.4 610.8L994.5 614.4L994.6 647.4L994.6 657.1L994.7 675.9L994.8 678.2L994.8 675.8L994.9 667.7L995 684.4L995 702.8L995.1 690.1L995.2 661.6L995.2 661.8L995.3 694.7L995.4 680.4L995.5 692.6L995.5 691.2L995.6 683.4L995.7 692.7L995.7 685.4L995.8 707.4L995.9 684.3L995.9 692.9L996 683.7L996.1 694L996.1 698.7L996.2 696.8L996.3 678.2L996.4 704.3L996.4 690.8L996.5 689.1L996.6 707.2L996.6 677.3L996.7 701.5L996.8 703.7L996.8 692.5L996.9 665.9L997 693.2L997 695.7L997.1 702.6L997.2 698.6L997.2 690.5L997.3 699.7L997.4 690.5L997.5 722.6L997.5 693.1L997.6 692.2L997.7 704.3L997.7 705.7L997.8 717.4L997.9 718.3L997.9 707.2L998 676L998.1 707.5L998.1 700.8L998.2 704.4L998.3 715.9L998.3 718.3L998.4 721.7L998.5 720.7L998.5 717.6L998.6 737.9L998.7 735.1L998.8 754.7L998.8 706.6L998.9 701.3L999 735.5L999 729.4L999.1 717.1L999.2 723.1L999.2 716.3L999.3 743.4L999.4 720.9L999.4 716.3L999.5 740L999.6 716.9L999.6 710.7L999.7 684.1L999.8 743.5L999.8 730L999.9 733.9L1000 739.3L1000 736L1000.1 757.7L1000.2 744.7L1000.2 715.1L1000.3 745.2L1000.4 729L1000.4 754.6L1000.5 736.5L1000.6 747L1000.6 749.2L1000.7 717.5L1000.8 722.3L1000.9 720L1000.9 756.6L1001 729L1001.1 742.9L1001.1 725.1L1001.2 741.8L1001.3 751.3L1001.3 741.5L1001.4 737.5L1001.5 751.3L1001.5 745.9L1001.6 750.5L1001.7 754.5L1001.7 747.3L1001.8 753L1001.9 749.6L1001.9 748.6L1002 755.7L1002.1 752.8L1002.1 744.9L1002.2 749.9L1002.3 751.5L1002.3 745.9L1002.4 746.6L1002.5 748L1002.5 735.9L1002.6 744.8L1002.7 747.1L1002.7 737.6L1002.8 740.6L1002.9 749.4L1002.9 744L1003 741L1003.1 754.7L1003.1 737.6L1003.2 737.2L1003.3 753.4L1003.3 757.4L1003.4 737.3L1003.5 734.4L1003.5 746.8L1003.6 743L1003.7 756.5L1003.7 747.2L1003.8 735.6L1003.9 720.3L1003.9 725.6L1004 729.9L1004.1 700.3L1004.1 683.5L1004.2 723.8L1004.3 699.3L1004.3 663L1004.4 675.8L1004.5 659.6L1004.5 671.7L1004.6 663.3L1004.7 644.8L1004.7 648.1L1004.8 633.3L1004.9 626.9L1004.9 648.5L1005 641L1005 633.8L1005.1 641.4L1005.2 640.4L1005.2 633L1005.3 638.5L1005.4 638L1005.4 632.2L1005.5 637.6L1005.6 638.7L1005.6 636.2L1005.7 629.5L1005.8 632.5L1005.8 628.3L1005.9 642.6L1006 641.4L1006 643.7L1006.1 633.7L1006.2 634.2L1006.2 636.7L1006.3 634.1L1006.4 636.7L1006.4 633L1006.5 641.3L1006.6 631L1006.6 643.8L1006.7 640.5L1006.8 662.3L1006.8 648.6L1006.9 627L1007 646.2L1007 641.5L1007.1 642.1L1007.1 641.4L1007.2 631.7L1007.3 635.3L1007.3 657.3L1007.4 611.9L1007.5 627.2L1007.5 619.4L1007.6 627L1007.7 632.4L1007.7 655.7L1007.8 615.5L1007.9 642.1L1007.9 627L1008 626L1008.1 623.4L1008.1 636.8L1008.2 640.2L1008.3 624.2L1008.3 612.4L1008.4 635.5L1008.4 632.6L1008.5 627.3L1008.6 626.2L1008.6 617.3L1008.7 638.3L1008.8 628.2L1008.8 633.5L1008.9 635.1L1009 623.8L1009 635.1L1009.1 630.7L1009.2 643.1L1009.2 619.3L1009.3 631.1L1009.4 631.8L1009.4 650.4L1009.5 633.8L1009.5 627.9L1009.6 616.5L1009.7 639.1L1009.7 633.1L1009.8 635L1009.9 619.8L1009.9 636.4L1010 620L1010.1 631.3L1010.1 612.6L1010.2 614.6L1010.3 619.9L1010.3 637.7L1010.4 627L1010.4 622.9L1010.5 634.9L1010.6 630.3L1010.6 635L1010.7 633.6L1010.8 627L1010.8 633.2L1010.9 630.2L1011 623.3L1011 621.2L1011.1 631.1L1011.2 618.9L1011.2 635.1L1011.3 635.5L1011.3 643.9L1011.4 617.6L1011.5 641L1011.5 629.3L1011.6 628.5L1011.7 619.7L1011.7 632.6L1011.8 630.1L1011.9 635L1011.9 642.8L1012 636.5L1012 616.7L1012.1 630.2L1012.2 623.8L1012.2 616.3L1012.3 661.5L1012.4 618.2L1012.4 622.2L1012.5 657.7L1012.6 639.1L1012.6 615.5L1012.7 631.7L1012.7 621.1L1012.8 623.3L1012.9 630.4L1012.9 630.2L1013 620.6L1013.1 612.6L1013.1 629L1013.2 641.9L1013.3 608.5L1013.3 622.8L1013.4 635.8L1013.4 634L1013.5 643.3L1013.6 636.8L1013.6 647.5L1013.7 614.6L1013.8 621.3L1013.8 622.8L1013.9 630.4L1013.9 628.6L1014 628.2L1014.1 630.6L1014.1 625L1014.2 618.9L1014.3 625.9L1014.3 626.2L1014.4 624.1L1014.4 626.2L1014.5 618.5L1014.6 626.2L1014.6 625L1014.7 627.3L1014.8 622.6L1014.8 630.7L1014.9 628.8L1015 627.6L1015 640L1015.1 617.3L1015.1 615.6L1015.2 629.4L1015.3 620.9L1015.3 625.1L1015.4 621.9L1015.5 619L1015.5 627.8L1015.6 626.1L1015.6 625.2L1015.7 629.7L1015.8 620L1015.8 625.5L1015.9 628L1016 612L1016 638.5L1016.1 616.6L1016.1 620.1L1016.2 624.5L1016.3 615.8L1016.3 622.9L1016.4 628.5L1016.5 630.7L1016.5 628.6L1016.6 630.3L1016.6 626.3L1016.7 615.8L1016.8 629.7L1016.8 630.3L1016.9 635.5L1016.9 610.1L1017 642.5L1017.1 632.6L1017.1 608.3L1017.2 620.1L1017.3 624.6L1017.3 629.7L1017.4 621.2L1017.4 615.3L1017.5 628.4L1017.6 595.5L1017.6 627.8L1017.7 627.8L1017.8 624.3L1017.8 617.7L1017.9 617.9L1017.9 619.5L1018 620.8L1018.1 609.8L1018.1 623.5L1018.2 615.6L1018.2 616.5L1018.3 614.5L1018.4 620.6L1018.4 623L1018.5 619.4L1018.6 613.1L1018.6 616.6L1018.7 620.1L1018.7 616.2L1018.8 615.8L1018.9 621.2L1018.9 616.1L1019 612.1L1019 618.5L1019.1 622.2L1019.2 617.7L1019.2 617L1019.3 613.6L1019.4 618.6L1019.4 624L1019.5 605.1L1019.5 608.5L1019.6 623.8L1019.7 629.3L1019.7 619.4L1019.8 611.8L1019.8 626L1019.9 623.7L1020 645L1020 625.4L1020.1 698.3L1020.1 711.3L1020.2 721.4L1020.3 685.2L1020.3 727.8L1020.4 708L1020.5 685.3L1020.5 677.1L1020.6 642.4L1020.6 641.7L1020.7 616.2L1020.8 618.9L1020.8 622.3L1020.9 618.4L1020.9 622.8L1021 605.7L1021.1 613L1021.1 613.4L1021.2 610L1021.2 611.5L1021.3 606.9L1021.4 608.9L1021.4 612.9L1021.5 612.4L1021.5 608.4L1021.6 607.5L1021.7 614.3L1021.7 610.7L1021.8 611.9L1021.9 611.4L1021.9 606.8L1022 612.7L1022 610.3L1022.1 610.8L1022.2 612L1022.2 614.1L1022.3 604L1022.3 610.7L1022.4 613.2L1022.5 611L1022.5 603.1L1022.6 611.1L1022.6 608.7L1022.7 604.7L1022.8 605.7L1022.8 607.7L1022.9 607.1L1022.9 609.4L1023 607L1023.1 608.8L1023.1 610.1L1023.2 605.9L1023.2 603.6L1023.3 606.3L1023.4 604.9L1023.4 611.2L1023.5 607.3L1023.5 613.8L1023.6 616.9L1023.7 613.5L1023.7 629.4L1023.8 662.6L1023.8 671.5L1023.9 676.4L1024 705.8L1024 723.3L1024.1 749.3L1024.1 732L1024.2 728.6L1024.3 692L1024.3 690.6L1024.4 657.4L1024.4 643.4L1024.5 620.5L1024.6 603.6L1024.6 608.7L1024.7 602.8L1024.7 602.4L1024.8 602L1024.9 606L1024.9 605.7L1025 602.6L1025 604.2L1025.1 602.5L1025.2 606.6L1025.2 604.1L1025.3 603.9L1025.3 605.1L1025.4 605.8L1025.4 605.8L1025.5 605.6L1025.6 605.4L1025.6 604.3L1025.7 606L1025.7 602.1L1025.8 603.5L1025.9 607.8L1025.9 604.4L1026 604.6L1026 606.3L1026.1 606.6L1026.2 602.6L1026.2 606.8L1026.3 604.8L1026.3 606.5L1026.4 602L1026.5 603.4L1026.5 602.9L1026.6 602.1L1026.6 602.2L1026.7 601.6L1026.8 603.8L1026.8 603.7L1026.9 603.9L1026.9 602.8L1027 603L1027 601.4L1027.1 601.7L1027.2 604.6L1027.2 602.6L1027.3 599.9L1027.3 603.1L1027.4 601.8L1027.5 602L1027.5 600.8L1027.6 602.1L1027.6 600.5L1027.7 600.3L1027.8 605.6L1027.8 603L1027.9 600.4L1027.9 597.6L1028 603.4L1028 602.2L1028.1 603L1028.2 599.8L1028.2 600.9L1028.3 601.5L1028.3 600.2L1028.4 600.5L1028.5 600.1L1028.5 599.1L1028.6 600.1L1028.6 600.6L1028.7 600.2L1028.7 599.1L1028.8 599.5L1028.9 599.3L1028.9 597L1029 599L1029 597.9L1029.1 597.5L1029.2 600L1029.2 598.1L1029.3 600.3L1029.3 599.2L1029.4 599L1029.4 598.5L1029.5 598.9L1029.6 598.3L1029.6 598.8L1029.7 600.5L1029.7 597.8L1029.8 598L1029.9 599.3L1029.9 598.2L1030 597.6L1030 598.1L1030.1 598.1L1030.1 597.3L1030.2 598.1L1030.3 598.7L1030.3 597.3L1030.4 597.8L1030.4 597.4L1030.5 597.5L1030.6 597.2L1030.6 597.2L1030.7 597.1L1030.7 597L1030.8 596.8L1030.8 597.8L1030.9 596.8L1031 597L1031 596.9L1031.1 597.1L1031.1 597.5L1031.2 596.2L1031.2 596.7L1031.3 597.1L1031.4 597.3L1031.4 596.8L1031.5 597.1L1031.5 596L1031.6 596.5L1031.6 596.5L1031.7 597.7L1031.8 596.6L1031.8 596.7L1031.9 597.2L1031.9 597.3L1032 596.7L1032.1 596.7L1032.1 597.1L1032.2 596.8L1032.2 596.8L1032.3 596.6L1032.3 596.7L1032.4 596.7L1032.5 596.9L1032.5 596.8L1032.6 596.6L1032.6 597L1032.7 596.4L1032.7 596.8L1032.8 596.8L1032.9 597.1L1032.9 596.7L1033 596.7L1033 596.4L1033.1 596.4L1033.1 596.6L1033.2 596.7L1033.3 596.5L1033.3 596.4L1033.4 596.4L1033.4 596.8L1033.5 596.6L1033.5 596.5L1033.6 596.6L1033.7 596.3L1033.7 596.5L1033.8 596.6L1033.8 596.3L1033.9 596.2L1033.9 596.3L1034 596.6L1034.1 596.3L1034.1 596.4L1034.2 596.4L1034.2 596.4L1034.3 596.6L1034.3 596.5L1034.4 596.4L1034.4 596.3L1034.5 596.3L1034.6 596.2L1034.6 596.2L1034.7 596L1034.7 596.1L1034.8 596.3L1034.8 596.2L1034.9 596.3L1035 596.3L1035 596.4L1035.1 596.1L1035.1 596.1L1035.2 596.3L1035.2 596.3L1035.3 596.5L1035.4 596L1035.4 596.3L1035.5 595.7L1035.5 595.9L1035.6 595.7L1035.6 596.1L1035.7 596.1L1035.8 595.8L1035.8 595.9L1035.9 595.9L1035.9 596.2L1036 596L1036 596.1L1036.1 596L1036.1 595.9L1036.2 595.8L1036.3 596L1036.3 595.9L1036.4 595.9L1036.4 596L1036.5 595.9L1036.5 610.9L1036.6 641L1036.7 651.1L1036.7 644.9L1036.8 711.2L1036.8 700.3L1036.9 725.7L1036.9 718.2L1037 693.8L1037 674.9L1037.1 671.1L1037.2 640.9L1037.2 625.4L1037.3 607.1L1037.3 595.9L1037.4 595.8L1037.4 595.9L1037.5 595.8L1037.5 595.9L1037.6 595.8L1037.7 595.7L1037.7 595.8L1037.8 595.9L1037.8 595.9L1037.9 595.9L1037.9 595.7L1038 595.8L1038 595.8L1038.1 595.8L1038.2 595.8L1038.2 595.8L1038.3 595.7L1038.3 595.9L1038.4 596L1038.4 595.7L1038.5 596L1038.5 595.6L1038.6 595.8L1038.7 595.7L1038.7 595.8L1038.8 595.8L1038.8 595.8L1038.9 595.8L1038.9 595.8L1039 595.7L1039 595.9L1039.1 595.8L1039.2 595.8L1039.2 595.8L1039.3 595.7L1039.3 595.8L1039.4 595.8L1039.4 595.8L1039.5 595.8L1039.5 595.8L1039.6 595.8L1039.7 595.8L1039.7 595.7L1039.8 595.8L1039.8 595.7L1039.9 595.7L1039.9 595.7L1040 595.8L1040 595.7L1040.1 595.7L1040.2 595.7L1040.2 595.8L1040.3 595.8L1040.3 595.7L1040.4 595.7L1040.4 595.9L1040.5 595.7L1040.5 595.7L1040.6 595.8L1040.7 595.8L1040.7 595.7L1040.8 595.7L1040.8 595.8L1040.9 595.8L1040.9 595.8L1041 595.8L1041 595.8L1041.1 595.8L1041.1 595.7L1041.2 595.8L1041.3 595.7L1041.3 595.7L1041.4 595.8L1041.4 595.7L1041.5 595.8L1041.5 595.9L1041.6 595.7L1041.6 595.8L1041.7 595.7L1041.7 595.9L1041.8 595.8L1041.9 595.8L1041.9 595.8L1042 595.8L1042 595.7L1042.1 595.5L1042.1 595.8L1042.2 595.7L1042.2 595.7L1042.3 595.8L1042.3 595.9L1042.4 595.7L1042.5 595.7L1042.5 595.7L1042.6 595.7L1042.6 595.7L1042.7 595.8L1042.7 595.8L1042.8 595.7L1042.8 595.7L1042.9 595.7L1042.9 595.8L1043 595.7L1043.1 595.7L1043.1 595.7L1043.2 595.7L1043.2 595.7L1043.3 595.7L1043.3 595.7L1043.4 595.7L1043.4 595.8L1043.5 595.8L1043.5 595.8L1043.6 595.7L1043.7 595.7L1043.7 595.7L1043.8 595.8L1043.8 595.8L1043.9 595.8L1043.9 595.8L1044 595.8L1044 595.8L1044.1 595.8L1044.1 595.8L1044.2 595.6L1044.2 595.8L1044.3 595.8L1044.4 595.8L1044.4 595.7L1044.5 595.7L1044.5 595.7L1044.6 595.8L1044.6 595.7L1044.7 595.6L1044.7 595.7L1044.8 595.6L1044.8 595.7L1044.9 595.7L1044.9 595.7L1045 595.8L1045.1 595.6L1045.1 595.7L1045.2 595.8L1045.2 595.8L1045.3 595.8L1045.3 595.8L1045.4 595.8L1045.4 595.8L1045.5 595.8L1045.5 595.7L1045.6 595.7L1045.6 595.8L1045.7 595.7L1045.8 595.8L1045.8 595.8L1045.9 595.7L1045.9 595.8L1046 595.7L1046 595.8L1046.1 595.7L1046.1 595.7L1046.2 595.9L1046.2 595.7L1046.3 595.7L1046.3 595.8L1046.4 595.7L1046.4 595.8L1046.5 595.8L1046.6 595.7L1046.6 595.8L1046.7 595.8L1046.7 595.8L1046.8 595.8L1046.8 595.8L1046.9 595.7L1046.9 595.8L1047 595.7L1047 595.8L1047.1 595.8L1047.1 595.9L1047.2 595.8L1047.2 595.8L1047.3 595.8L1047.4 595.8L1047.4 595.8L1047.5 595.8L1047.5 595.8L1047.6 595.8L1047.6 595.7L1047.7 595.9L1047.7 595.7L1047.8 595.8L1047.8 595.7L1047.9 595.8L1047.9 595.7L1048 595.8L1048 595.8L1048.1 595.6L1048.1 595.7L1048.2 595.7L1048.3 595.8L1048.3 595.7L1048.4 595.7L1048.4 595.7L1048.5 595.7L1048.5 595.7L1048.6 595.7L1048.6 595.7L1048.7 595.7L1048.7 595.7L1048.8 595.9L1048.8 595.7L1048.9 595.8L1048.9 595.8L1049 595.8L1049 595.7L1049.1 595.8L1049.2 595.8L1049.2 595.8L1049.3 595.7L1049.3 595.8L1049.4 595.8L1049.4 595.7L1049.5 595.7L1049.5 595.8L1049.6 595.7L1049.6 595.8L1049.7 595.7L1049.7 595.7L1049.8 595.7L1049.8 595.7L1049.9 595.8L1049.9 595.6L1050 595.9L1050 595.6L1050.1 595.7L1050.1 595.7L1050.2 595.7L1050.3 595.7L1050.3 595.7L1050.4 595.7L1050.4 595.7L1050.5 595.7L1050.5 595.8L1050.6 595.8L1050.6 595.8L1050.7 595.8L1050.7 595.8L1050.8 595.8L1050.8 595.8L1050.9 595.8L1050.9 595.8L1051 595.7L1051 595.8L1051.1 595.8L1051.1 595.9L1051.2 595.8L1051.2 595.9L1051.3 595.9L1051.4 596.1L1051.4 596L1051.5 596.4L1051.5 596L1051.6 596.1L1051.6 596.1L1051.7 596.3L1051.7 596.3L1051.8 596.4L1051.8 596.1L1051.9 596.4L1051.9 596.7L1052 596.7L1052 596.3L1052.1 596.9L1052.1 597.5L1052.2 596.6L1052.2 596.8L1052.3 596.8L1052.3 596.6L1052.4 596.7L1052.4 596.9L1052.5 597.1L1052.5 597.1L1052.6 597.4L1052.6 596.4L1052.7 596.4L1052.8 596.9L1052.8 596.9L1052.9 597L1052.9 597.3L1053 596.7L1053 597.1L1053.1 597.3L1053.1 597.1L1053.2 600.1L1053.2 598.7L1053.3 597.7L1053.3 597.5L1053.4 597.9L1053.4 597.9L1053.5 598.8L1053.5 599.3L1053.6 599.7L1053.6 600.2L1053.7 598.7L1053.7 600.5L1053.8 600.1L1053.8 600.6L1053.9 599.3L1053.9 600L1054 602.6L1054 601.1L1054.1 602.1L1054.1 599.3L1054.2 599.8L1054.2 600.5L1054.3 600.1L1054.3 602.2L1054.4 600.4L1054.4 602.1L1054.5 599.5L1054.6 601.1L1054.6 601.2L1054.7 602.8L1054.7 602.4L1054.8 606.2L1054.8 601.7L1054.9 603.1L1054.9 601.9L1055 603L1055 604.4L1055.1 605.4L1055.1 607.8L1055.2 609.6L1055.2 610.1L1055.3 606.8L1055.3 605.7L1055.4 606.9L1055.4 609.1L1055.5 610.9L1055.5 605.9L1055.6 610.8L1055.6 607.1L1055.7 607.2L1055.7 621.8L1055.8 613L1055.8 614.7L1055.9 614.2L1055.9 619.7L1056 607.7L1056 614L1056.1 613.7L1056.1 612.6L1056.2 618.9L1056.2 612.6L1056.3 619.3L1056.3 615.1L1056.4 616.8L1056.4 616.3L1056.5 615.5L1056.5 622.5L1056.6 621.5L1056.6 624.5L1056.7 623.4L1056.7 628.7L1056.8 633.4L1056.8 628.2L1056.9 630L1056.9 614.3L1057 633.8L1057 641.8L1057.1 639.8L1057.1 651.4L1057.2 629.9L1057.2 649.6L1057.3 635.7L1057.3 642.1L1057.4 638.8L1057.4 649.5L1057.5 650L1057.6 644.7L1057.6 651.5L1057.7 647.5L1057.7 676.2L1057.8 658.8L1057.8 676.3L1057.9 642.7L1057.9 668.2L1058 660.8L1058 663.3L1058.1 668L1058.1 673.4L1058.2 679.2L1058.2 678L1058.3 669.1L1058.3 693.6L1058.4 651.8L1058.4 661.6L1058.5 663.1L1058.5 661.2L1058.6 682.8L1058.6 668.2L1058.7 677.2L1058.7 668.6L1058.8 695.2L1058.8 705.9L1058.9 713.4L1058.9 685.4L1059 688.7L1059 634.9L1059.1 746.7L1059.1 702.7L1059.2 703.6L1059.2 706.8L1059.3 722L1059.3 682.3L1059.4 740.2L1059.4 705.7L1059.5 715.8L1059.5 719.3L1059.6 710.7L1059.6 710.9L1059.7 722.2L1059.7 735.3L1059.8 744.5L1059.8 727.3L1059.9 719.4L1059.9 730.9L1060 741.2L1060 739.6L1060.1 725.1L1060.1 738.9L1060.2 734.3L1060.2 740.9L1060.3 747.7L1060.3 757L1060.4 731.2L1060.4 732.1L1060.5 735.8L1060.5 740.2L1060.6 727.6L1060.6 728.6L1060.7 735.8L1060.7 751.2L1060.8 751.2L1060.8 754L1060.9 751.3L1060.9 756.9L1061 748.8L1061 753.7L1061.1 727.9L1061.1 731.9L1061.1 750.6L1061.2 742.8L1061.2 742.9L1061.3 740.6L1061.3 744.5L1061.4 719.8L1061.4 729.2L1061.5 708.3L1061.5 718.6L1061.6 713.6L1061.6 730.5L1061.7 737.1L1061.7 724.1L1061.8 727.3L1061.8 686.1L1061.9 697.7L1061.9 730.9L1062 717.9L1062 694.5L1062.1 731.5L1062.1 691.6L1062.2 646.2L1062.2 721.2L1062.3 659.8L1062.3 639.2L1062.4 675.4L1062.4 632L1062.5 630.1L1062.5 627.2L1062.6 631.9L1062.6 616.3L1062.7 613L1062.7 624L1062.8 613.7L1062.8 609.6L1062.9 618L1062.9 609.7L1063 625L1063 622.3L1063.1 630.7L1063.1 639.4L1063.2 606.8L1063.2 615L1063.3 638.2L1063.3 626.6L1063.4 614.4L1063.4 620.9L1063.5 641.5L1063.5 611.1L1063.6 620.8L1063.6 636.1L1063.7 623.5L1063.7 634.3L1063.8 619.1L1063.8 621.3L1063.9 615.6L1063.9 621.3L1064 624.2L1064 626.7L1064 618.9L1064.1 616.2L1064.1 630.5L1064.2 630.5L1064.2 626L1064.3 638.4L1064.3 615.8L1064.4 623.3L1064.4 630L1064.5 630.9L1064.5 623.8L1064.6 625L1064.6 632.9L1064.7 632.7L1064.7 626.6L1064.8 623.9L1064.8 632.3L1064.9 623.6L1064.9 630.5L1065 622.5L1065 629.4L1065.1 626.1L1065.1 639.7L1065.2 629.1L1065.2 646.7L1065.3 638.3L1065.3 621.8L1065.4 632L1065.4 637.3L1065.5 620L1065.5 633.5L1065.6 633.5L1065.6 626.3L1065.7 631.6L1065.7 627.6L1065.8 601.5L1065.8 644.5L1065.8 629.6L1065.9 629.9L1065.9 627.3L1066 621.2L1066 635.4L1066.1 647.5L1066.1 636.2L1066.2 636.7L1066.2 626.5L1066.3 634.6L1066.3 625.4L1066.4 644.1L1066.4 638.2L1066.5 654.6L1066.5 644.3L1066.6 625.8L1066.6 631.6L1066.7 638.4L1066.7 649.8L1066.8 635.6L1066.8 630.9L1066.9 636.7L1066.9 625.3L1067 657.1L1067 625.1L1067.1 653.9L1067.1 627.1L1067.1 634.4L1067.2 637.4L1067.2 647.4L1067.3 651.8L1067.3 629.1L1067.4 632.3L1067.4 642.2L1067.5 633.5L1067.5 640.5L1067.6 640.2L1067.6 632.8L1067.7 654.5L1067.7 617.6L1067.8 646.7L1067.8 650.3L1067.9 636.5L1067.9 653.5L1068 645L1068 659.4L1068.1 615.3L1068.1 630.7L1068.2 632.3L1068.2 640.6L1068.2 639.8L1068.3 656.2L1068.3 673.8L1068.4 646.9L1068.4 658.2L1068.5 634.3L1068.5 662.7L1068.6 628.5L1068.6 632L1068.7 638.6L1068.7 650.7L1068.8 652.9L1068.8 622.5L1068.9 648.4L1068.9 640.6L1069 652.6L1069 652.6L1069.1 658.3L1069.1 639L1069.2 655.9L1069.2 617.6L1069.3 655.3L1069.3 641.1L1069.3 644.5L1069.4 653.6L1069.4 655.5L1069.5 654.9L1069.5 662.6L1069.6 629.8L1069.6 644.4L1069.7 657.3L1069.7 650.9L1069.8 633.1L1069.8 661.1L1069.9 649.4L1069.9 650.3L1070 649.3L1070 663.7L1070.1 658.4L1070.1 661.4L1070.2 657.9L1070.2 641.9L1070.2 653.3L1070.3 647.4L1070.3 651.6L1070.4 654.9L1070.4 655.3L1070.5 646.4L1070.5 641.9L1070.6 651L1070.6 649.6L1070.7 657.7L1070.7 657.5L1070.8 655.4L1070.8 645.9L1070.9 675.4L1070.9 654.7L1071 635.7L1071 638L1071 654.5L1071.1 645.1L1071.1 658.7L1071.2 687.3L1071.2 659.2L1071.3 638.1L1071.3 650.5L1071.4 671L1071.4 645.2L1071.5 658.5L1071.5 637.2L1071.6 665.1L1071.6 621.1L1071.7 660.4L1071.7 627.2L1071.8 637.4L1071.8 654.5L1071.8 652.6L1071.9 654.8L1071.9 668.7L1072 670.8L1072 657.9L1072.1 668.2L1072.1 671.5L1072.2 641L1072.2 673.5L1072.3 671L1072.3 663.3L1072.4 675.5L1072.4 665.2L1072.5 656.7L1072.5 667L1072.5 656.1L1072.6 660.9L1072.6 648.8L1072.7 671L1072.7 663L1072.8 668.3L1072.8 674.7L1072.9 669L1072.9 669.5L1073 683.1L1073 670L1073.1 680L1073.1 678.6L1073.2 680.2L1073.2 665.6L1073.2 694.3L1073.3 661.2L1073.3 682.1L1073.4 662.6L1073.4 660L1073.5 672.7L1073.5 700.2L1073.6 682.6L1073.6 665.3L1073.7 688.9L1073.7 702.1L1073.8 692.8L1073.8 689.5L1073.9 679.4L1073.9 653.9L1073.9 664.4L1074 619.5L1074 732.6L1074.1 671.8L1074.1 673.2L1074.2 665.3L1074.2 684.6L1074.3 666.8L1074.3 705.5L1074.4 752.7L1074.4 701.9L1074.5 683.4L1074.5 683.5L1074.5 681L1074.6 653.5L1074.6 684.6L1074.7 668.3L1074.7 672.3L1074.8 673.3L1074.8 672.2L1074.9 680.9L1074.9 689.9L1075 709.1L1075 695.9L1075.1 686.1L1075.1 689.9L1075.1 679.3L1075.2 666L1075.2 659.8L1075.3 678.4L1075.3 692.7L1075.4 687.1L1075.4 681.3L1075.5 682.3L1075.5 687.8L1075.6 667.1L1075.6 681.6L1075.7 726.8L1075.7 663.8L1075.7 694L1075.8 655.7L1075.8 717.7L1075.9 684.8L1075.9 679.5L1076 701.7L1076 666.8L1076.1 673L1076.1 665.9L1076.2 687.3L1076.2 668L1076.3 708.2L1076.3 694.4L1076.3 700L1076.4 675.3L1076.4 698.3L1076.5 691.5L1076.5 676.9L1076.6 701.8L1076.6 692.6L1076.7 680.1L1076.7 724L1076.8 720.1L1076.8 677.3L1076.8 699.6L1076.9 692.3L1076.9 678.7L1077 693L1077 680.6L1077.1 685.7L1077.1 700.3L1077.2 679.2L1077.2 690.8L1077.3 702.7L1077.3 698.7L1077.3 698L1077.4 681L1077.4 708.6L1077.5 706.3L1077.5 691.3L1077.6 696.1L1077.6 709.2L1077.7 706.7L1077.7 684.7L1077.8 705.1L1077.8 708.5L1077.8 696.7L1077.9 694.4L1077.9 690.6L1078 697.1L1078 711.9L1078.1 698.6L1078.1 667.3L1078.2 704.7L1078.2 694.5L1078.3 704.6L1078.3 697.9L1078.3 691.9L1078.4 702.6L1078.4 706.7L1078.5 671.1L1078.5 729L1078.6 710.7L1078.6 732.9L1078.7 661.2L1078.7 695.8L1078.8 723.2L1078.8 671.5L1078.8 706.4L1078.9 702.1L1078.9 719.6L1079 706.3L1079 712.8L1079.1 725.6L1079.1 700.7L1079.2 701L1079.2 721.5L1079.3 712.2L1079.3 714.6L1079.3 719.6L1079.4 706L1079.4 680L1079.5 667.8L1079.5 691.9L1079.6 712.4L1079.6 708.1L1079.7 734.5L1079.7 713.6L1079.8 734.1L1079.8 668.3L1079.8 697.9L1079.9 713.8" stroke="#0072BD" stroke-width="1.85"/>
</g>
<rect x="782.6" y="103.5" width="287.4" height="41.6" fill="#ffffff" stroke="#262626" stroke-width="3"/>
<path d="M786.1 114.4H826" stroke="#0072BD" stroke-width="2.4"/>
<path d="M786.1 135.2H826" stroke="#D95319" stroke-width="2.4"/>
<text x="465.7" y="50.8" font-size="29" fill="#000000" stroke="#000000" stroke-width="0.5" text-anchor="start" textLength="110.3" lengthAdjust="spacingAndGlyphs">DARMc</text>
<text x="584.1" y="50.8" font-size="29" fill="#000000" stroke="#000000" stroke-width="0.5" text-anchor="start" textLength="35.8" lengthAdjust="spacingAndGlyphs">vs</text>
<text x="630.9" y="50.8" font-size="29" fill="#000000" stroke="#000000" stroke-width="0.5" text-anchor="start" textLength="97.7" lengthAdjust="spacingAndGlyphs">MICHc</text>
<text x="829.0" y="120.5" font-size="17.2" fill="#000000" stroke="#000000" stroke-width="0.5" text-anchor="start" textLength="93.5" lengthAdjust="spacingAndGlyphs">measured</text>
<text x="928.5" y="120.5" font-size="17.2" fill="#000000" stroke="#000000" stroke-width="0.5" text-anchor="start" textLength="81.6" lengthAdjust="spacingAndGlyphs">coupling</text>
<text x="829.0" y="141.0" font-size="17.2" fill="#000000" stroke="#000000" stroke-width="0.5" text-anchor="start" textLength="70.0" lengthAdjust="spacingAndGlyphs">current</text>
<text x="904.5" y="141.0" font-size="17.2" fill="#000000" stroke="#000000" stroke-width="0.5" text-anchor="start" textLength="108.3" lengthAdjust="spacingAndGlyphs">subtraction</text>
<text x="1018.3" y="141.0" font-size="17.2" fill="#000000" stroke="#000000" stroke-width="0.5" text-anchor="start" textLength="47.9" lengthAdjust="spacingAndGlyphs">filter</text>
<path d="M158.6 77.6L167.8 86.8M167.8 77.6L158.6 86.8" stroke="#262626" stroke-width="1.5" fill="none"/>
<text x="171.8" y="87.0" font-size="19.8" fill="#262626" stroke="#262626" stroke-width="0.5" text-anchor="start" textLength="23.5" lengthAdjust="spacingAndGlyphs">10</text>
<text x="197.2" y="78.8" font-size="14.5" fill="#262626" stroke="#262626" stroke-width="0.5" text-anchor="start" textLength="15.8" lengthAdjust="spacingAndGlyphs">-3</text>
<text x="136.1" y="120.3" font-size="19.8" fill="#262626" stroke="#262626" stroke-width="0.5" text-anchor="start" textLength="13.2" lengthAdjust="spacingAndGlyphs">5</text>
<text x="136.1" y="162.4" font-size="19.8" fill="#262626" stroke="#262626" stroke-width="0.5" text-anchor="start" textLength="13.2" lengthAdjust="spacingAndGlyphs">4</text>
<text x="136.1" y="216.7" font-size="19.8" fill="#262626" stroke="#262626" stroke-width="0.5" text-anchor="start" textLength="13.2" lengthAdjust="spacingAndGlyphs">3</text>
<text x="109.7" y="350.4" font-size="19.8" fill="#262626" stroke="#262626" stroke-width="0.5" text-anchor="start" textLength="39.4" lengthAdjust="spacingAndGlyphs">200</text>
<text x="135.5" y="432.9" font-size="19.8" fill="#262626" stroke="#262626" stroke-width="0.5" text-anchor="start" textLength="13.6" lengthAdjust="spacingAndGlyphs">0</text>
<text x="101.6" y="515.4" font-size="19.8" fill="#262626" stroke="#262626" stroke-width="0.5" text-anchor="start" textLength="47.5" lengthAdjust="spacingAndGlyphs">-200</text>
<text x="137.1" y="602.4" font-size="19.8" fill="#262626" stroke="#262626" stroke-width="0.5" text-anchor="start" textLength="12.1" lengthAdjust="spacingAndGlyphs">1</text>
<text x="114.6" y="684.4" font-size="19.8" fill="#262626" stroke="#262626" stroke-width="0.5" text-anchor="start" textLength="33.7" lengthAdjust="spacingAndGlyphs">0.5</text>
<text x="136.0" y="766.4" font-size="19.8" fill="#262626" stroke="#262626" stroke-width="0.5" text-anchor="start" textLength="13.6" lengthAdjust="spacingAndGlyphs">0</text>
<text x="278.7" y="287.0" font-size="19.8" fill="#262626" stroke="#262626" stroke-width="0.5" text-anchor="start" textLength="25.9" lengthAdjust="spacingAndGlyphs">10</text>
<text x="304.8" y="278.0" font-size="14.5" fill="#262626" stroke="#262626" stroke-width="0.5" text-anchor="start" textLength="9.4" lengthAdjust="spacingAndGlyphs">1</text>
<text x="729.7" y="287.0" font-size="19.8" fill="#262626" stroke="#262626" stroke-width="0.5" text-anchor="start" textLength="25.9" lengthAdjust="spacingAndGlyphs">10</text>
<text x="755.6" y="278.0" font-size="14.5" fill="#262626" stroke="#262626" stroke-width="0.5" text-anchor="start" textLength="9.9" lengthAdjust="spacingAndGlyphs">2</text>
<text x="564.3" y="313.8" font-size="21.6" fill="#262626" stroke="#262626" stroke-width="0.5" text-anchor="start" textLength="52.2" lengthAdjust="spacingAndGlyphs">Freq</text>
<text x="624.6" y="313.8" font-size="21.6" fill="#262626" stroke="#262626" stroke-width="0.5" text-anchor="start" textLength="46.9" lengthAdjust="spacingAndGlyphs">[Hz]</text>
<text x="278.7" y="538.0" font-size="19.8" fill="#262626" stroke="#262626" stroke-width="0.5" text-anchor="start" textLength="25.9" lengthAdjust="spacingAndGlyphs">10</text>
<text x="304.8" y="529.0" font-size="14.5" fill="#262626" stroke="#262626" stroke-width="0.5" text-anchor="start" textLength="9.4" lengthAdjust="spacingAndGlyphs">1</text>
<text x="729.7" y="538.0" font-size="19.8" fill="#262626" stroke="#262626" stroke-width="0.5" text-anchor="start" textLength="25.9" lengthAdjust="spacingAndGlyphs">10</text>
<text x="755.6" y="529.0" font-size="14.5" fill="#262626" stroke="#262626" stroke-width="0.5" text-anchor="start" textLength="9.9" lengthAdjust="spacingAndGlyphs">2</text>
<text x="564.3" y="564.8" font-size="21.6" fill="#262626" stroke="#262626" stroke-width="0.5" text-anchor="start" textLength="52.2" lengthAdjust="spacingAndGlyphs">Freq</text>
<text x="624.6" y="564.8" font-size="21.6" fill="#262626" stroke="#262626" stroke-width="0.5" text-anchor="start" textLength="46.9" lengthAdjust="spacingAndGlyphs">[Hz]</text>
<text x="278.7" y="790.0" font-size="19.8" fill="#262626" stroke="#262626" stroke-width="0.5" text-anchor="start" textLength="25.9" lengthAdjust="spacingAndGlyphs">10</text>
<text x="304.8" y="781.0" font-size="14.5" fill="#262626" stroke="#262626" stroke-width="0.5" text-anchor="start" textLength="9.4" lengthAdjust="spacingAndGlyphs">1</text>
<text x="729.7" y="790.0" font-size="19.8" fill="#262626" stroke="#262626" stroke-width="0.5" text-anchor="start" textLength="25.9" lengthAdjust="spacingAndGlyphs">10</text>
<text x="755.6" y="781.0" font-size="14.5" fill="#262626" stroke="#262626" stroke-width="0.5" text-anchor="start" textLength="9.9" lengthAdjust="spacingAndGlyphs">2</text>
<text x="564.3" y="816.8" font-size="21.6" fill="#262626" stroke="#262626" stroke-width="0.5" text-anchor="start" textLength="52.2" lengthAdjust="spacingAndGlyphs">Freq</text>
<text x="624.6" y="816.8" font-size="21.6" fill="#262626" stroke="#262626" stroke-width="0.5" text-anchor="start" textLength="46.9" lengthAdjust="spacingAndGlyphs">[Hz]</text>
<text transform="translate(127.4 199.1) rotate(-90)" font-size="21.6" fill="#262626" stroke="#262626" stroke-width="0.5" textLength="48.5" lengthAdjust="spacingAndGlyphs">Mag</text>
<text transform="translate(93.3 495.4) rotate(-90)" font-size="21.6" fill="#262626" stroke="#262626" stroke-width="0.5" textLength="69.2" lengthAdjust="spacingAndGlyphs">Phase</text>
<text transform="translate(93.3 418.3) rotate(-90)" font-size="21.6" fill="#262626" stroke="#262626" stroke-width="0.5" textLength="61.5" lengthAdjust="spacingAndGlyphs">[deg]</text>
<text transform="translate(106.7 738.5) rotate(-90)" font-size="21.6" fill="#262626" stroke="#262626" stroke-width="0.5" textLength="123.1" lengthAdjust="spacingAndGlyphs">Coherence</text>
</svg>
</body></html>
